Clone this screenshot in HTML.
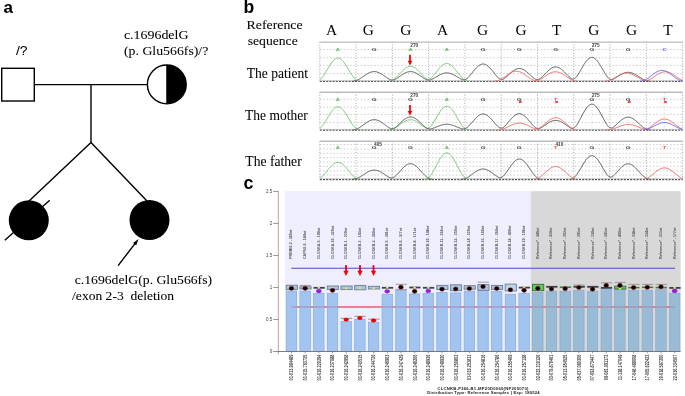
<!DOCTYPE html>
<html><head><meta charset="utf-8"><style>
html,body{margin:0;padding:0;background:#fff;width:685px;height:396px;overflow:hidden}
svg{position:absolute;left:0;top:0;will-change:transform}
.sf{font-family:'Liberation Serif',serif}
.ss{font-family:'Liberation Sans',sans-serif}
</style></head><body>
<svg width="685" height="396" viewBox="0 0 685 396">

<g id="pa">
<text x="3.4" y="12.5" class="ss" font-weight="bold" font-size="17">a</text>
<text transform="translate(16.0,55.3) scale(1.09,1)" font-family="Liberation Sans" font-weight="normal" font-size="12.8" fill="#000" stroke="#000" stroke-width="0.06">/?</text>
<text transform="translate(123.9,38.8) scale(1.1339,1)" font-family="Liberation Serif" font-weight="normal" font-size="12.3" fill="#000" stroke="#000" stroke-width="0.06">c.1696delG</text>
<text transform="translate(124.0,55.4) scale(1.1053,1)" font-family="Liberation Serif" font-weight="normal" font-size="12.5" fill="#000" stroke="#000" stroke-width="0.06">(p. Glu566fs)/?</text>
<rect x="1.7" y="68.3" width="32.6" height="32.7" fill="#fff" stroke="#000" stroke-width="1.4"/>
<line x1="34.3" y1="84.6" x2="147.5" y2="84.6" stroke="#000" stroke-width="1.4"/>
<line x1="91" y1="84.6" x2="91" y2="142.6" stroke="#000" stroke-width="1.4"/>
<polyline points="29,201 91,142.6 147,201" fill="none" stroke="#000" stroke-width="1.4"/>
<circle cx="166.8" cy="84.4" r="19.4" fill="#fff" stroke="#000" stroke-width="1.4"/>
<path d="M166.8 65.0 A19.4 19.4 0 0 1 166.8 103.80000000000001 Z" fill="#000"/>
<line x1="166.8" y1="65.0" x2="166.8" y2="103.80000000000001" stroke="#000" stroke-width="1"/>
<circle cx="28.8" cy="220.3" r="20" fill="#000"/>
<circle cx="149.5" cy="220" r="20" fill="#000"/>
<line x1="49.7" y1="200.3" x2="4.8" y2="240.3" stroke="#000" stroke-width="1.4"/>
<line x1="118.1" y1="265.6" x2="135" y2="243.6" stroke="#000" stroke-width="1.4"/>
<path d="M138.6 239 L133.05 242.93 L136.21 245.37 Z" fill="#000"/>
<text transform="translate(74.7,283.9) scale(1.123,1)" font-family="Liberation Serif" font-weight="normal" font-size="12.2" fill="#000" stroke="#000" stroke-width="0.06">c.1696delG(p. Glu566fs)</text>
<text transform="translate(72.1,299.8) scale(1.112,1)" font-family="Liberation Serif" font-weight="normal" font-size="12.2" fill="#000" stroke="#000" stroke-width="0.06">/exon 2-3&#160; deletion</text>
</g>
<g id="pb">
<text x="243.6" y="12.6" class="ss" font-weight="bold" font-size="17.5">b</text>
<text transform="translate(246.58,28.8) scale(1.1163,1)" font-family="Liberation Serif" font-weight="normal" font-size="12.4" fill="#000" stroke="#000" stroke-width="0.06">Reference</text>
<text transform="translate(247.7,44.5) scale(1.1022,1)" font-family="Liberation Serif" font-weight="normal" font-size="12.4" fill="#000" stroke="#000" stroke-width="0.06">sequence</text>
<text transform="translate(246.8,77.9) scale(0.9415,1)" font-family="Liberation Serif" font-weight="normal" font-size="14.4" fill="#000" stroke="#000" stroke-width="0.06">The patient</text>
<text transform="translate(245.1,119.8) scale(0.9439,1)" font-family="Liberation Serif" font-weight="normal" font-size="14.3" fill="#000" stroke="#000" stroke-width="0.06">The mother</text>
<text transform="translate(245.3,166) scale(0.9542,1)" font-family="Liberation Serif" font-weight="normal" font-size="14.3" fill="#000" stroke="#000" stroke-width="0.06">The father</text>
<text transform="translate(331.5,34.6) scale(1.1,1)" class="sf" font-size="14" text-anchor="middle">A</text>
<text transform="translate(368.4,34.6) scale(1.1,1)" class="sf" font-size="14" text-anchor="middle">G</text>
<text transform="translate(405.8,34.6) scale(1.1,1)" class="sf" font-size="14" text-anchor="middle">G</text>
<text transform="translate(442.6,34.6) scale(1.1,1)" class="sf" font-size="14" text-anchor="middle">A</text>
<text transform="translate(482.6,34.6) scale(1.1,1)" class="sf" font-size="14" text-anchor="middle">G</text>
<text transform="translate(521,34.6) scale(1.1,1)" class="sf" font-size="14" text-anchor="middle">G</text>
<text transform="translate(556.8,34.6) scale(1.1,1)" class="sf" font-size="14" text-anchor="middle">T</text>
<text transform="translate(593.8,34.6) scale(1.1,1)" class="sf" font-size="14" text-anchor="middle">G</text>
<text transform="translate(631.6,34.6) scale(1.1,1)" class="sf" font-size="14" text-anchor="middle">G</text>
<text transform="translate(668,34.6) scale(1.1,1)" class="sf" font-size="14" text-anchor="middle">T</text>
<line x1="319.8" y1="49.5" x2="682.6" y2="49.5" stroke="#b4b4b4" stroke-width="0.7" stroke-dasharray="1.4 2.0"/>
<line x1="319.8" y1="57.7" x2="682.6" y2="57.7" stroke="#b4b4b4" stroke-width="0.7" stroke-dasharray="1.4 2.0"/>
<line x1="319.8" y1="65.4" x2="682.6" y2="65.4" stroke="#b4b4b4" stroke-width="0.7" stroke-dasharray="1.4 2.0"/>
<line x1="319.8" y1="73.5" x2="682.6" y2="73.5" stroke="#b4b4b4" stroke-width="0.7" stroke-dasharray="1.4 2.0"/>
<line x1="319.80" y1="41.9" x2="319.80" y2="81.1" stroke="#999" stroke-width="0.8" stroke-dasharray="1.1 1.6"/>
<line x1="356.08" y1="41.9" x2="356.08" y2="81.1" stroke="#999" stroke-width="0.8" stroke-dasharray="1.1 1.6"/>
<line x1="392.36" y1="41.9" x2="392.36" y2="81.1" stroke="#999" stroke-width="0.8" stroke-dasharray="1.1 1.6"/>
<line x1="428.64" y1="41.9" x2="428.64" y2="81.1" stroke="#999" stroke-width="0.8" stroke-dasharray="1.1 1.6"/>
<line x1="464.92" y1="41.9" x2="464.92" y2="81.1" stroke="#999" stroke-width="0.8" stroke-dasharray="1.1 1.6"/>
<line x1="501.20" y1="41.9" x2="501.20" y2="81.1" stroke="#999" stroke-width="0.8" stroke-dasharray="1.1 1.6"/>
<line x1="537.48" y1="41.9" x2="537.48" y2="81.1" stroke="#999" stroke-width="0.8" stroke-dasharray="1.1 1.6"/>
<line x1="573.76" y1="41.9" x2="573.76" y2="81.1" stroke="#999" stroke-width="0.8" stroke-dasharray="1.1 1.6"/>
<line x1="610.04" y1="41.9" x2="610.04" y2="81.1" stroke="#999" stroke-width="0.8" stroke-dasharray="1.1 1.6"/>
<line x1="646.32" y1="41.9" x2="646.32" y2="81.1" stroke="#999" stroke-width="0.8" stroke-dasharray="1.1 1.6"/>
<line x1="682.60" y1="41.9" x2="682.60" y2="81.1" stroke="#999" stroke-width="0.8" stroke-dasharray="1.1 1.6"/>
<line x1="319.8" y1="42.1" x2="682.6" y2="42.1" stroke="#bdbdbd" stroke-width="1.4"/>
<line x1="319.8" y1="80.60" x2="682.6" y2="80.60" stroke="#c8c8c8" stroke-width="1"/>
<line x1="319.8" y1="81.50" x2="682.6" y2="81.50" stroke="#555" stroke-width="1.1" stroke-dasharray="2.0 1.2"/>
<polyline points="319.8,79.80 320.4,79.29 321.0,78.70 321.6,78.04 322.2,77.31 322.8,76.51 323.5,75.67 324.1,74.77 324.7,73.84 325.3,72.87 325.9,71.87 326.5,70.86 327.1,69.83 327.7,68.80 328.3,67.78 328.9,66.78 329.5,65.80 330.1,64.84 330.8,63.93 331.4,63.06 332.0,62.24 332.6,61.48 333.2,60.79 333.8,60.17 334.4,59.62 335.0,59.15 335.6,58.76 336.2,58.46 336.8,58.25 337.4,58.13 338.1,58.10 338.7,58.16 339.3,58.32 339.9,58.56 340.5,58.89 341.1,59.31 341.7,59.81 342.3,60.39 342.9,61.04 343.5,61.75 344.1,62.54 344.7,63.37 345.4,64.26 346.0,65.19 346.6,66.15 347.2,67.15 347.8,68.16 348.4,69.18 349.0,70.21 349.6,71.23 350.2,72.24 350.8,73.23 351.4,74.18 352.0,75.11 352.7,75.98 353.3,76.81 353.9,77.58 354.5,78.29 355.1,78.93 355.7,79.49 356.3,79.97 356.9,80.37 357.5,80.69 358.1,80.92 358.7,81.05 359.3,81.10" fill="none" stroke="#6abf6a" stroke-width="0.9" stroke-linejoin="round"/>
<polyline points="389.1,81.10 389.7,81.07 390.3,80.98 390.9,80.84 391.5,80.64 392.1,80.39 392.7,80.08 393.3,79.72 393.9,79.32 394.5,78.87 395.1,78.38 395.7,77.85 396.3,77.30 396.9,76.71 397.5,76.10 398.2,75.47 398.8,74.83 399.4,74.18 400.0,73.52 400.6,72.87 401.2,72.22 401.8,71.58 402.4,70.96 403.0,70.37 403.6,69.80 404.2,69.25 404.8,68.75 405.4,68.28 406.0,67.86 406.6,67.48 407.2,67.15 407.8,66.87 408.4,66.64 409.0,66.47 409.6,66.36 410.2,66.31 410.8,66.31 411.4,66.37 412.0,66.49 412.6,66.66 413.2,66.89 413.8,67.18 414.5,67.51 415.1,67.89 415.7,68.32 416.3,68.79 416.9,69.30 417.5,69.85 418.1,70.42 418.7,71.02 419.3,71.64 419.9,72.28 420.5,72.93 421.1,73.58 421.7,74.24 422.3,74.89 422.9,75.53 423.5,76.16 424.1,76.76 424.7,77.35 425.3,77.90 425.9,78.40 426.5,78.79 427.1,79.07 427.7,79.23 428.3,79.29 428.9,79.23 429.5,79.06 430.1,78.78 430.8,78.39 431.4,77.90 432.0,77.30 432.6,76.64 433.2,75.94 433.8,75.22 434.4,74.48 435.0,73.71 435.6,72.94 436.2,72.16 436.8,71.38 437.4,70.61 438.0,69.85 438.6,69.11 439.2,68.40 439.8,67.72 440.4,67.07 441.0,66.46 441.6,65.90 442.2,65.39 442.8,64.94 443.4,64.54 444.0,64.20 444.6,63.93 445.2,63.72 445.8,63.58 446.5,63.51 447.1,63.51 447.7,63.57 448.3,63.71 448.9,63.91 449.5,64.18 450.1,64.51 450.7,64.90 451.3,65.35 451.9,65.86 452.5,66.41 453.1,67.01 453.7,67.66 454.3,68.34 454.9,69.05 455.5,69.78 456.1,70.54 456.7,71.31 457.3,72.09 457.9,72.87 458.5,73.64 459.1,74.41 459.7,75.15 460.3,75.88 460.9,76.58 461.5,77.24 462.1,77.87 462.8,78.45 463.4,78.98 464.0,79.46 464.6,79.89 465.2,80.25 465.8,80.55 466.4,80.79 467.0,80.96 467.6,81.07 468.2,81.10" fill="none" stroke="#6abf6a" stroke-width="0.9" stroke-linejoin="round"/>
<polyline points="352.8,81.10 353.4,81.08 354.0,81.03 354.6,80.93 355.2,80.81 355.8,80.65 356.4,80.45 357.0,80.22 357.6,79.97 358.2,79.68 358.8,79.37 359.4,79.04 360.0,78.68 360.6,78.31 361.2,77.92 361.8,77.52 362.4,77.11 363.0,76.69 363.6,76.27 364.2,75.85 364.8,75.44 365.4,75.03 366.0,74.64 366.6,74.25 367.2,73.89 367.8,73.54 368.4,73.21 369.0,72.91 369.6,72.64 370.2,72.39 370.8,72.17 371.4,71.99 372.0,71.84 372.6,71.73 373.2,71.65 373.8,71.61 374.4,71.60 375.0,71.63 375.6,71.70 376.2,71.81 376.8,71.95 377.4,72.12 378.0,72.33 378.6,72.57 379.2,72.84 379.8,73.13 380.4,73.45 381.1,73.79 381.7,74.16 382.3,74.54 382.9,74.93 383.5,75.33 384.1,75.75 384.7,76.16 385.3,76.58 385.9,77.00 386.5,77.41 387.1,77.81 387.7,78.21 388.3,78.58 388.9,78.94 389.5,79.28 390.1,79.55 390.7,79.77 391.3,79.92 391.9,80.01 392.5,80.03 393.1,79.98 393.7,79.88 394.3,79.70 394.9,79.47 395.5,79.17 396.1,78.82 396.7,78.45 397.3,78.07 397.9,77.68 398.5,77.27 399.1,76.85 399.7,76.44 400.3,76.02 400.9,75.60 401.5,75.19 402.1,74.79 402.7,74.40 403.3,74.03 403.9,73.67 404.5,73.34 405.1,73.03 405.7,72.74 406.3,72.48 406.9,72.25 407.5,72.06 408.1,71.90 408.7,71.77 409.3,71.68 409.9,71.62 410.5,71.60 411.1,71.62 411.7,71.67 412.3,71.76 412.9,71.89 413.5,72.05 414.1,72.24 414.7,72.47 415.3,72.73 415.9,73.01 416.5,73.32 417.1,73.66 417.7,74.01 418.3,74.38 418.9,74.77 419.5,75.17 420.1,75.58 420.7,76.00 421.3,76.42 421.9,76.84 422.5,77.25 423.1,77.66 423.7,78.05 424.3,78.44 424.9,78.81 425.5,79.15 426.1,79.46 426.7,79.71 427.3,79.90 427.9,80.03 428.5,80.10 429.1,80.11 429.7,80.05 430.3,79.94 430.9,79.77 431.5,79.54 432.1,79.25 432.7,78.94 433.3,78.62 433.9,78.28 434.5,77.93 435.1,77.58 435.7,77.22 436.3,76.85 436.9,76.49 437.5,76.14 438.1,75.79 438.7,75.45 439.3,75.12 439.9,74.81 440.5,74.51 441.1,74.23 441.7,73.98 442.3,73.75 442.9,73.54 443.5,73.36 444.1,73.21 444.7,73.08 445.3,72.99 445.9,72.93 446.5,72.90 447.1,72.91 447.7,72.94 448.3,73.01 448.9,73.10 449.5,73.23 450.1,73.39 450.7,73.57 451.3,73.78 451.9,74.02 452.5,74.28 453.1,74.56 453.7,74.86 454.3,75.18 454.9,75.51 455.5,75.85 456.1,76.20 456.7,76.56 457.3,76.92 457.9,77.28 458.5,77.64 459.1,77.99 459.7,78.34 460.3,78.67 460.9,79.00 461.6,79.31 462.2,79.57 462.8,79.75 463.4,79.85 464.0,79.85 464.6,79.77 465.2,79.60 465.8,79.34 466.4,79.00 467.0,78.57 467.6,78.07 468.2,77.49 468.8,76.86 469.4,76.19 470.0,75.50 470.6,74.78 471.2,74.04 471.8,73.29 472.4,72.54 473.0,71.79 473.6,71.04 474.2,70.31 474.8,69.59 475.4,68.89 476.0,68.23 476.6,67.59 477.2,67.00 477.8,66.45 478.4,65.95 479.0,65.49 479.6,65.10 480.2,64.76 480.8,64.48 481.4,64.26 482.0,64.11 482.6,64.02 483.2,64.00 483.8,64.05 484.4,64.16 485.0,64.34 485.6,64.58 486.2,64.88 486.8,65.24 487.4,65.66 488.0,66.14 488.6,66.66 489.2,67.23 489.8,67.84 490.4,68.48 491.0,69.16 491.6,69.87 492.2,70.59 492.8,71.33 493.4,72.08 494.0,72.84 494.6,73.59 495.2,74.33 495.8,75.06 496.4,75.77 497.0,76.46 497.6,77.11 498.2,77.72 498.8,78.26 499.4,78.70 500.0,79.04 500.6,79.28 501.2,79.43 501.8,79.47 502.4,79.40 503.0,79.24 503.6,78.97 504.2,78.61 504.8,78.16 505.4,77.68 506.0,77.17 506.6,76.65 507.2,76.11 507.8,75.56 508.4,75.01 509.0,74.46 509.6,73.90 510.2,73.36 510.8,72.82 511.4,72.30 512.0,71.80 512.6,71.33 513.2,70.88 513.8,70.46 514.4,70.07 515.0,69.73 515.6,69.42 516.2,69.15 516.8,68.93 517.4,68.75 518.0,68.62 518.6,68.53 519.2,68.50 519.8,68.52 520.4,68.58 521.0,68.69 521.6,68.85 522.2,69.06 522.8,69.31 523.4,69.60 524.0,69.93 524.6,70.30 525.2,70.71 525.8,71.15 526.4,71.62 527.0,72.11 527.6,72.62 528.2,73.15 528.8,73.69 529.4,74.24 530.0,74.79 530.6,75.35 531.2,75.90 531.8,76.44 532.4,76.97 533.0,77.48 533.6,77.97 534.2,78.44 534.8,78.85 535.4,79.17 536.0,79.40 536.6,79.55 537.2,79.60 537.8,79.55 538.4,79.42 539.0,79.19 539.6,78.88 540.2,78.48 540.8,77.99 541.5,77.46 542.1,76.90 542.7,76.32 543.3,75.72 543.9,75.10 544.5,74.48 545.1,73.86 545.7,73.23 546.3,72.61 546.9,72.01 547.5,71.41 548.1,70.84 548.7,70.29 549.3,69.78 549.9,69.29 550.5,68.84 551.1,68.43 551.7,68.06 552.3,67.74 552.9,67.47 553.5,67.25 554.1,67.08 554.7,66.97 555.3,66.91 555.9,66.90 556.5,66.96 557.1,67.06 557.7,67.22 558.3,67.43 558.9,67.69 559.5,68.01 560.1,68.36 560.7,68.77 561.3,69.21 561.9,69.69 562.5,70.20 563.1,70.74 563.7,71.31 564.3,71.90 564.9,72.51 565.5,73.12 566.1,73.75 566.7,74.37 567.3,75.00 567.9,75.61 568.5,76.21 569.1,76.80 569.7,77.36 570.3,77.90 570.9,78.39 571.5,78.76 572.1,78.99 572.7,79.10 573.3,79.08 573.9,78.92 574.5,78.63 575.1,78.22 575.7,77.68 576.3,77.02 576.9,76.24 577.5,75.38 578.1,74.46 578.7,73.50 579.3,72.51 579.9,71.50 580.5,70.46 581.1,69.42 581.7,68.38 582.3,67.34 582.9,66.32 583.5,65.32 584.1,64.35 584.7,63.42 585.3,62.53 585.9,61.70 586.5,60.92 587.1,60.21 587.7,59.57 588.3,59.01 588.9,58.52 589.5,58.12 590.1,57.81 590.7,57.58 591.3,57.44 591.9,57.40 592.5,57.45 593.1,57.59 593.7,57.82 594.3,58.14 594.9,58.54 595.5,59.03 596.1,59.60 596.7,60.24 597.3,60.96 597.9,61.73 598.5,62.57 599.1,63.46 599.7,64.39 600.3,65.36 600.9,66.36 601.5,67.38 602.1,68.42 602.7,69.47 603.3,70.51 603.9,71.54 604.5,72.56 605.1,73.55 605.7,74.50 606.3,75.42 606.9,76.28 607.5,77.07 608.1,77.76 608.7,78.35 609.3,78.84 609.9,79.22 610.5,79.48 611.1,79.63 611.7,79.67 612.3,79.59 612.9,79.40 613.5,79.10 614.1,78.77 614.7,78.42 615.3,78.06 615.9,77.68 616.5,77.30 617.1,76.91 617.7,76.53 618.3,76.14 618.9,75.76 619.5,75.38 620.1,75.02 620.7,74.67 621.3,74.33 622.0,74.01 622.6,73.72 623.2,73.44 623.8,73.20 624.4,72.98 625.0,72.78 625.6,72.62 626.2,72.49 626.8,72.40 627.4,72.33 628.0,72.30 628.6,72.31 629.2,72.35 629.8,72.42 630.4,72.52 631.0,72.66 631.6,72.83 632.2,73.03 632.8,73.26 633.4,73.51 634.0,73.79 634.6,74.10 635.2,74.42 635.8,74.76 636.4,75.11 637.0,75.48 637.6,75.86 638.2,76.24 638.8,76.63 639.4,77.02 640.0,77.40 640.6,77.78 641.2,78.15 641.8,78.51 642.4,78.86 643.0,79.19 643.6,79.50 644.2,79.79 644.8,80.05 645.4,80.29 646.0,80.50 646.6,80.68 647.2,80.83 647.8,80.95 648.4,81.03 649.0,81.08 649.6,81.10" fill="none" stroke="#484848" stroke-width="0.9" stroke-linejoin="round"/>
<polyline points="494.9,81.10 495.5,81.08 496.1,81.02 496.7,80.93 497.3,80.79 498.0,80.62 498.6,80.42 499.2,80.18 499.8,79.91 500.4,79.61 501.0,79.28 501.6,78.93 502.2,78.56 502.8,78.16 503.4,77.76 504.0,77.34 504.6,76.91 505.2,76.47 505.8,76.03 506.4,75.59 507.0,75.16 507.6,74.74 508.2,74.32 508.8,73.92 509.4,73.54 510.0,73.18 510.6,72.84 511.2,72.53 511.8,72.24 512.4,71.99 513.0,71.77 513.6,71.58 514.3,71.43 514.9,71.32 515.5,71.24 516.1,71.20 516.7,71.21 517.3,71.25 517.9,71.32 518.5,71.44 519.1,71.59 519.7,71.78 520.3,72.01 520.9,72.26 521.5,72.55 522.1,72.86 522.7,73.20 523.3,73.57 523.9,73.95 524.5,74.35 525.1,74.77 525.7,75.19 526.3,75.63 526.9,76.07 527.5,76.50 528.1,76.94 528.7,77.37 529.3,77.79 529.9,78.19 530.5,78.59 531.2,78.96 531.8,79.31 532.4,79.63 533.0,79.93 533.6,80.20 534.2,80.43 534.8,80.62 535.4,80.74 536.0,80.78 536.6,80.75 537.2,80.65 537.8,80.47 538.4,80.25 539.0,80.00 539.6,79.72 540.2,79.42 540.8,79.09 541.4,78.74 542.0,78.37 542.6,77.99 543.2,77.59 543.8,77.19 544.4,76.78 545.0,76.37 545.6,75.96 546.2,75.55 546.8,75.15 547.4,74.76 548.1,74.39 548.7,74.02 549.3,73.68 549.9,73.36 550.5,73.07 551.1,72.80 551.7,72.56 552.3,72.35 552.9,72.17 553.5,72.03 554.1,71.92 554.7,71.84 555.3,71.81 555.9,71.80 556.5,71.84 557.1,71.91 557.7,72.02 558.3,72.16 558.9,72.33 559.5,72.54 560.1,72.78 560.7,73.05 561.3,73.34 561.9,73.66 562.5,74.00 563.1,74.36 563.7,74.73 564.3,75.12 565.0,75.52 565.6,75.93 566.2,76.34 566.8,76.75 567.4,77.16 568.0,77.56 568.6,77.96 569.2,78.34 569.8,78.71 570.4,79.06 571.0,79.39 571.6,79.70 572.2,79.98 572.8,80.23 573.4,80.46 574.0,80.65 574.6,80.81 575.2,80.94 575.8,81.03 576.4,81.08 577.0,81.10" fill="none" stroke="#f05a5a" stroke-width="0.9" stroke-linejoin="round"/>
<polyline points="605.3,81.10 605.9,81.08 606.5,81.04 607.1,80.96 607.7,80.85 608.3,80.71 608.9,80.55 609.5,80.35 610.1,80.14 610.7,79.89 611.3,79.63 611.9,79.34 612.5,79.04 613.1,78.72 613.7,78.39 614.3,78.05 614.9,77.71 615.5,77.35 616.1,77.00 616.8,76.65 617.4,76.30 618.0,75.95 618.6,75.62 619.2,75.29 619.8,74.99 620.4,74.69 621.0,74.42 621.6,74.17 622.2,73.94 622.8,73.73 623.4,73.56 624.0,73.41 624.6,73.28 625.2,73.19 625.8,73.13 626.4,73.10 627.0,73.11 627.6,73.14 628.2,73.20 628.8,73.30 629.4,73.42 630.0,73.58 630.6,73.76 631.3,73.97 631.9,74.20 632.5,74.45 633.1,74.73 633.7,75.03 634.3,75.34 634.9,75.66 635.5,76.00 636.1,76.34 636.7,76.69 637.3,77.05 637.9,77.40 638.5,77.75 639.1,78.10 639.7,78.44 640.3,78.77 640.9,79.08 641.5,79.38 642.1,79.66 642.7,79.93 643.3,80.17 643.9,80.38 644.5,80.55 645.1,80.65 645.7,80.69 646.4,80.66 647.0,80.57 647.6,80.42 648.2,80.20 648.8,79.94 649.4,79.66 650.0,79.35 650.6,79.01 651.2,78.66 651.8,78.29 652.4,77.90 653.0,77.50 653.6,77.10 654.2,76.69 654.8,76.28 655.4,75.87 656.0,75.46 656.6,75.06 657.2,74.67 657.8,74.30 658.4,73.94 659.0,73.61 659.6,73.29 660.2,73.00 660.9,72.74 661.5,72.51 662.1,72.30 662.7,72.13 663.3,72.00 663.9,71.90 664.5,71.83 665.1,71.80 665.7,71.81 666.3,71.85 666.9,71.93 667.5,72.05 668.1,72.20 668.7,72.38 669.3,72.60 669.9,72.84 670.5,73.12 671.1,73.42 671.7,73.74 672.3,74.09 672.9,74.45 673.5,74.83 674.1,75.22 674.7,75.62 675.4,76.03 676.0,76.44 676.6,76.86 677.2,77.27 677.8,77.67 678.4,78.06 679.0,78.44 679.6,78.80 680.2,79.15 680.8,79.47 681.4,79.78 682.0,80.05 682.6,80.30" fill="none" stroke="#f05a5a" stroke-width="0.9" stroke-linejoin="round"/>
<polyline points="640.6,81.10 641.2,81.08 641.8,81.02 642.4,80.91 643.0,80.77 643.6,80.59 644.2,80.37 644.8,80.11 645.4,79.82 646.0,79.50 646.6,79.15 647.2,78.78 647.8,78.38 648.4,77.95 649.0,77.52 649.6,77.07 650.2,76.60 650.8,76.14 651.4,75.66 652.0,75.19 652.6,74.73 653.2,74.27 653.8,73.82 654.4,73.39 655.0,72.98 655.6,72.58 656.2,72.22 656.8,71.88 657.4,71.57 658.0,71.29 658.6,71.05 659.2,70.84 659.8,70.67 660.4,70.54 661.0,70.46 661.6,70.41 662.2,70.40 662.8,70.44 663.4,70.52 664.0,70.63 664.6,70.79 665.2,70.99 665.8,71.22 666.4,71.49 667.0,71.79 667.6,72.12 668.2,72.48 668.8,72.87 669.4,73.28 670.0,73.70 670.6,74.15 671.2,74.60 671.8,75.07 672.4,75.54 673.0,76.01 673.6,76.48 674.2,76.94 674.8,77.39 675.4,77.84 676.0,78.26 676.6,78.67 677.2,79.05 677.8,79.41 678.4,79.74 679.0,80.04 679.6,80.30 680.2,80.53 680.8,80.72 681.4,80.88 682.0,80.99 682.6,81.07" fill="none" stroke="#5a5af0" stroke-width="0.9" stroke-linejoin="round"/>
<text transform="translate(337.9,50.8) scale(1.15,0.72)" class="ss" font-size="5.5" font-weight="bold" text-anchor="middle" fill="#6abf6a">A</text>
<text transform="translate(374.2,50.8) scale(1.15,0.72)" class="ss" font-size="5.5" font-weight="bold" text-anchor="middle" fill="#444">G</text>
<text transform="translate(410.5,50.8) scale(1.15,0.72)" class="ss" font-size="5.5" font-weight="bold" text-anchor="middle" fill="#6abf6a">A</text>
<text transform="translate(446.8,50.8) scale(1.15,0.72)" class="ss" font-size="5.5" font-weight="bold" text-anchor="middle" fill="#6abf6a">A</text>
<text transform="translate(483.1,50.8) scale(1.15,0.72)" class="ss" font-size="5.5" font-weight="bold" text-anchor="middle" fill="#444">G</text>
<text transform="translate(519.3,50.8) scale(1.15,0.72)" class="ss" font-size="5.5" font-weight="bold" text-anchor="middle" fill="#444">G</text>
<text transform="translate(555.6,50.8) scale(1.15,0.72)" class="ss" font-size="5.5" font-weight="bold" text-anchor="middle" fill="#444">G</text>
<text transform="translate(591.9,50.8) scale(1.15,0.72)" class="ss" font-size="5.5" font-weight="bold" text-anchor="middle" fill="#444">G</text>
<text transform="translate(628.2,50.8) scale(1.15,0.72)" class="ss" font-size="5.5" font-weight="bold" text-anchor="middle" fill="#444">G</text>
<text transform="translate(664.5,50.8) scale(1.15,0.72)" class="ss" font-size="5.5" font-weight="bold" text-anchor="middle" fill="#5a5af0">C</text>
<text x="414.3" y="46.5" class="ss" font-size="4.8" font-weight="bold" text-anchor="middle" fill="#444">270</text>
<text x="595.7" y="46.5" class="ss" font-size="4.8" font-weight="bold" text-anchor="middle" fill="#444">275</text>
<rect x="409.15" y="54.8" width="1.7" height="6.2" fill="#ee0000"/>
<path d="M407.7 60.8 L412.3 60.8 L410.0 65.39999999999999 Z" fill="#ee0000"/>
<line x1="319.8" y1="99.3" x2="682.6" y2="99.3" stroke="#b4b4b4" stroke-width="0.7" stroke-dasharray="1.4 2.0"/>
<line x1="319.8" y1="107.2" x2="682.6" y2="107.2" stroke="#b4b4b4" stroke-width="0.7" stroke-dasharray="1.4 2.0"/>
<line x1="319.8" y1="114.4" x2="682.6" y2="114.4" stroke="#b4b4b4" stroke-width="0.7" stroke-dasharray="1.4 2.0"/>
<line x1="319.8" y1="122.4" x2="682.6" y2="122.4" stroke="#b4b4b4" stroke-width="0.7" stroke-dasharray="1.4 2.0"/>
<line x1="319.80" y1="92.1" x2="319.80" y2="129.9" stroke="#999" stroke-width="0.8" stroke-dasharray="1.1 1.6"/>
<line x1="356.08" y1="92.1" x2="356.08" y2="129.9" stroke="#999" stroke-width="0.8" stroke-dasharray="1.1 1.6"/>
<line x1="392.36" y1="92.1" x2="392.36" y2="129.9" stroke="#999" stroke-width="0.8" stroke-dasharray="1.1 1.6"/>
<line x1="428.64" y1="92.1" x2="428.64" y2="129.9" stroke="#999" stroke-width="0.8" stroke-dasharray="1.1 1.6"/>
<line x1="464.92" y1="92.1" x2="464.92" y2="129.9" stroke="#999" stroke-width="0.8" stroke-dasharray="1.1 1.6"/>
<line x1="501.20" y1="92.1" x2="501.20" y2="129.9" stroke="#999" stroke-width="0.8" stroke-dasharray="1.1 1.6"/>
<line x1="537.48" y1="92.1" x2="537.48" y2="129.9" stroke="#999" stroke-width="0.8" stroke-dasharray="1.1 1.6"/>
<line x1="573.76" y1="92.1" x2="573.76" y2="129.9" stroke="#999" stroke-width="0.8" stroke-dasharray="1.1 1.6"/>
<line x1="610.04" y1="92.1" x2="610.04" y2="129.9" stroke="#999" stroke-width="0.8" stroke-dasharray="1.1 1.6"/>
<line x1="646.32" y1="92.1" x2="646.32" y2="129.9" stroke="#999" stroke-width="0.8" stroke-dasharray="1.1 1.6"/>
<line x1="682.60" y1="92.1" x2="682.60" y2="129.9" stroke="#999" stroke-width="0.8" stroke-dasharray="1.1 1.6"/>
<line x1="337.94" y1="93.1" x2="337.94" y2="129.9" stroke="#c8c8d8" stroke-width="0.7" stroke-dasharray="1.1 2.2"/>
<line x1="374.22" y1="93.1" x2="374.22" y2="129.9" stroke="#c8c8d8" stroke-width="0.7" stroke-dasharray="1.1 2.2"/>
<line x1="410.50" y1="93.1" x2="410.50" y2="129.9" stroke="#c8c8d8" stroke-width="0.7" stroke-dasharray="1.1 2.2"/>
<line x1="446.78" y1="93.1" x2="446.78" y2="129.9" stroke="#c8c8d8" stroke-width="0.7" stroke-dasharray="1.1 2.2"/>
<line x1="483.06" y1="93.1" x2="483.06" y2="129.9" stroke="#c8c8d8" stroke-width="0.7" stroke-dasharray="1.1 2.2"/>
<line x1="519.34" y1="93.1" x2="519.34" y2="129.9" stroke="#c8c8d8" stroke-width="0.7" stroke-dasharray="1.1 2.2"/>
<line x1="555.62" y1="93.1" x2="555.62" y2="129.9" stroke="#c8c8d8" stroke-width="0.7" stroke-dasharray="1.1 2.2"/>
<line x1="591.90" y1="93.1" x2="591.90" y2="129.9" stroke="#c8c8d8" stroke-width="0.7" stroke-dasharray="1.1 2.2"/>
<line x1="628.18" y1="93.1" x2="628.18" y2="129.9" stroke="#c8c8d8" stroke-width="0.7" stroke-dasharray="1.1 2.2"/>
<line x1="664.46" y1="93.1" x2="664.46" y2="129.9" stroke="#c8c8d8" stroke-width="0.7" stroke-dasharray="1.1 2.2"/>
<line x1="319.8" y1="92.3" x2="682.6" y2="92.3" stroke="#bdbdbd" stroke-width="1.4"/>
<line x1="319.8" y1="129.40" x2="682.6" y2="129.40" stroke="#c8c8c8" stroke-width="1"/>
<line x1="319.8" y1="130.30" x2="682.6" y2="130.30" stroke="#555" stroke-width="1.1" stroke-dasharray="2.0 1.2"/>
<polyline points="319.8,128.60 320.4,128.08 321.0,127.49 321.6,126.82 322.2,126.09 322.8,125.29 323.5,124.44 324.1,123.55 324.7,122.60 325.3,121.63 325.9,120.63 326.5,119.61 327.1,118.58 327.7,117.55 328.3,116.53 328.9,115.52 329.5,114.53 330.1,113.57 330.8,112.65 331.4,111.78 332.0,110.96 332.6,110.20 333.2,109.50 333.8,108.87 334.4,108.32 335.0,107.85 335.6,107.46 336.2,107.16 336.8,106.95 337.4,106.83 338.1,106.80 338.7,106.86 339.3,107.02 339.9,107.26 340.5,107.60 341.1,108.02 341.7,108.52 342.3,109.10 342.9,109.75 343.5,110.47 344.1,111.25 344.7,112.10 345.4,112.99 346.0,113.92 346.6,114.89 347.2,115.89 347.8,116.90 348.4,117.93 349.0,118.96 349.6,119.99 350.2,121.00 350.8,121.99 351.4,122.95 352.0,123.88 352.7,124.76 353.3,125.59 353.9,126.37 354.5,127.08 355.1,127.72 355.7,128.28 356.3,128.77 356.9,129.17 357.5,129.49 358.1,129.72 358.7,129.85 359.3,129.90" fill="none" stroke="#6abf6a" stroke-width="0.9" stroke-linejoin="round"/>
<polyline points="389.1,129.90 389.7,129.88 390.3,129.82 390.9,129.72 391.5,129.58 392.1,129.41 392.7,129.20 393.3,128.95 393.9,128.67 394.5,128.36 395.1,128.03 395.7,127.66 396.3,127.28 396.9,126.87 397.5,126.45 398.2,126.02 398.8,125.58 399.4,125.13 400.0,124.68 400.6,124.23 401.2,123.78 401.8,123.34 402.4,122.91 403.0,122.50 403.6,122.11 404.2,121.74 404.8,121.39 405.4,121.07 406.0,120.77 406.6,120.51 407.2,120.28 407.8,120.09 408.4,119.94 409.0,119.82 409.6,119.74 410.2,119.70 410.8,119.71 411.4,119.75 412.0,119.83 412.6,119.95 413.2,120.11 413.8,120.30 414.5,120.53 415.1,120.80 415.7,121.09 416.3,121.42 416.9,121.77 417.5,122.14 418.1,122.54 418.7,122.95 419.3,123.38 419.9,123.82 420.5,124.27 421.1,124.72 421.7,125.17 422.3,125.62 422.9,126.06 423.5,126.49 424.1,126.91 424.7,127.31 425.3,127.70 425.9,128.02 426.5,128.22 427.1,128.31 427.7,128.27 428.3,128.12 428.9,127.84 429.5,127.45 430.1,126.95 430.8,126.34 431.4,125.62 432.0,124.80 432.6,123.92 433.2,122.99 433.8,122.02 434.4,121.02 435.0,119.99 435.6,118.96 436.2,117.91 436.8,116.87 437.4,115.83 438.0,114.82 438.6,113.83 439.2,112.87 439.8,111.96 440.4,111.09 441.0,110.28 441.6,109.52 442.2,108.84 442.8,108.23 443.4,107.70 444.0,107.24 444.6,106.88 445.2,106.60 445.8,106.41 446.5,106.31 447.1,106.31 447.7,106.40 448.3,106.58 448.9,106.85 449.5,107.21 450.1,107.65 450.7,108.18 451.3,108.78 451.9,109.46 452.5,110.20 453.1,111.01 453.7,111.87 454.3,112.79 454.9,113.74 455.5,114.73 456.1,115.74 456.7,116.77 457.3,117.81 457.9,118.86 458.5,119.90 459.1,120.92 459.7,121.93 460.3,122.90 460.9,123.83 461.5,124.72 462.1,125.56 462.8,126.34 463.4,127.06 464.0,127.70 464.6,128.27 465.2,128.76 465.8,129.17 466.4,129.49 467.0,129.72 467.6,129.85 468.2,129.90" fill="none" stroke="#6abf6a" stroke-width="0.9" stroke-linejoin="round"/>
<polyline points="352.8,129.90 353.4,129.88 354.0,129.82 354.6,129.72 355.2,129.59 355.8,129.41 356.4,129.20 357.0,128.96 357.6,128.68 358.2,128.38 358.8,128.04 359.4,127.68 360.0,127.30 360.6,126.90 361.2,126.48 361.8,126.05 362.4,125.61 363.0,125.17 363.6,124.72 364.2,124.27 364.8,123.82 365.4,123.39 366.0,122.96 366.6,122.55 367.2,122.15 367.8,121.78 368.4,121.43 369.0,121.11 369.6,120.81 370.2,120.55 370.8,120.32 371.4,120.12 372.0,119.96 372.6,119.84 373.2,119.75 373.8,119.71 374.4,119.70 375.0,119.74 375.6,119.81 376.2,119.92 376.8,120.07 377.4,120.26 378.0,120.48 378.6,120.74 379.2,121.03 379.8,121.34 380.4,121.69 381.1,122.05 381.7,122.44 382.3,122.85 382.9,123.27 383.5,123.71 384.1,124.15 384.7,124.60 385.3,125.05 385.9,125.50 386.5,125.94 387.1,126.37 387.7,126.79 388.3,127.20 388.9,127.59 389.5,127.94 390.1,128.23 390.7,128.44 391.3,128.57 391.9,128.62 392.5,128.59 393.1,128.48 393.7,128.29 394.3,128.03 394.9,127.69 395.5,127.28 396.1,126.81 396.7,126.31 397.3,125.79 397.9,125.25 398.5,124.70 399.1,124.13 399.7,123.57 400.3,123.00 400.9,122.43 401.5,121.88 402.1,121.33 402.7,120.80 403.3,120.30 403.9,119.81 404.5,119.36 405.1,118.94 405.7,118.55 406.3,118.20 406.9,117.89 407.5,117.62 408.1,117.40 408.7,117.23 409.3,117.10 409.9,117.03 410.5,117.00 411.1,117.02 411.7,117.10 412.3,117.22 412.9,117.39 413.5,117.61 414.1,117.88 414.7,118.18 415.3,118.53 415.9,118.92 416.5,119.34 417.1,119.79 417.7,120.27 418.3,120.78 418.9,121.31 419.5,121.85 420.1,122.41 420.7,122.97 421.3,123.54 421.9,124.11 422.5,124.67 423.1,125.23 423.7,125.76 424.3,126.29 424.9,126.78 425.5,127.26 426.1,127.69 426.7,128.06 427.3,128.37 427.9,128.63 428.5,128.82 429.1,128.95 429.7,129.02 430.3,129.02 430.9,128.96 431.5,128.83 432.1,128.64 432.7,128.43 433.3,128.20 433.9,127.97 434.5,127.74 435.1,127.49 435.7,127.25 436.3,127.00 436.9,126.75 437.5,126.51 438.1,126.27 438.7,126.04 439.3,125.82 439.9,125.60 440.5,125.40 441.1,125.21 441.7,125.04 442.3,124.88 442.9,124.74 443.5,124.61 444.1,124.51 444.7,124.43 445.3,124.36 445.9,124.32 446.5,124.30 447.1,124.30 447.7,124.33 448.3,124.37 448.9,124.44 449.5,124.53 450.1,124.63 450.7,124.76 451.3,124.90 451.9,125.06 452.5,125.24 453.1,125.43 453.7,125.64 454.3,125.85 454.9,126.08 455.5,126.31 456.1,126.55 456.7,126.80 457.3,127.04 457.9,127.29 458.5,127.54 459.1,127.78 459.7,128.01 460.3,128.24 460.9,128.46 461.6,128.67 462.2,128.85 462.8,128.95 463.4,128.98 464.0,128.93 464.6,128.80 465.2,128.60 465.8,128.33 466.4,127.98 467.0,127.57 467.6,127.09 468.2,126.54 468.8,125.96 469.4,125.34 470.0,124.69 470.6,124.02 471.2,123.34 471.8,122.64 472.4,121.94 473.0,121.24 473.6,120.55 474.2,119.86 474.8,119.20 475.4,118.55 476.0,117.93 476.6,117.34 477.2,116.79 477.8,116.28 478.4,115.81 479.0,115.39 479.6,115.02 480.2,114.70 480.8,114.44 481.4,114.24 482.0,114.10 482.6,114.02 483.2,114.00 483.8,114.04 484.4,114.15 485.0,114.31 485.6,114.54 486.2,114.82 486.8,115.16 487.4,115.55 488.0,115.99 488.6,116.47 489.2,117.00 489.8,117.57 490.4,118.17 491.0,118.80 491.6,119.46 492.2,120.13 492.8,120.82 493.4,121.52 494.0,122.22 494.6,122.92 495.2,123.61 495.8,124.28 496.4,124.94 497.0,125.58 497.6,126.19 498.2,126.76 498.8,127.24 499.4,127.61 500.0,127.88 500.6,128.04 501.2,128.09 501.8,128.03 502.4,127.86 503.0,127.58 503.6,127.19 504.2,126.70 504.8,126.12 505.4,125.50 506.0,124.85 506.6,124.18 507.2,123.49 507.8,122.78 508.4,122.07 509.0,121.36 509.6,120.65 510.2,119.95 510.8,119.26 511.4,118.59 512.0,117.95 512.6,117.34 513.2,116.76 513.8,116.22 514.4,115.72 515.0,115.28 515.6,114.88 516.2,114.54 516.8,114.25 517.4,114.02 518.0,113.85 518.6,113.74 519.2,113.70 519.8,113.72 520.4,113.80 521.0,113.95 521.6,114.15 522.2,114.42 522.8,114.74 523.4,115.11 524.0,115.54 524.6,116.02 525.2,116.54 525.8,117.11 526.4,117.71 527.0,118.34 527.6,118.99 528.2,119.67 528.8,120.37 529.4,121.08 530.0,121.79 530.6,122.51 531.2,123.21 531.8,123.91 532.4,124.59 533.0,125.25 533.6,125.88 534.2,126.48 534.8,127.03 535.4,127.49 536.0,127.88 536.6,128.18 537.2,128.39 537.8,128.52 538.4,128.56 539.0,128.50 539.6,128.36 540.2,128.13 540.8,127.82 541.5,127.46 542.1,127.09 542.7,126.70 543.3,126.30 543.9,125.89 544.5,125.47 545.1,125.05 545.7,124.64 546.3,124.22 546.9,123.82 547.5,123.42 548.1,123.04 548.7,122.67 549.3,122.32 549.9,122.00 550.5,121.70 551.1,121.42 551.7,121.18 552.3,120.96 552.9,120.78 553.5,120.64 554.1,120.52 554.7,120.45 555.3,120.41 555.9,120.40 556.5,120.44 557.1,120.51 557.7,120.61 558.3,120.76 558.9,120.93 559.5,121.14 560.1,121.38 560.7,121.65 561.3,121.94 561.9,122.27 562.5,122.61 563.1,122.97 563.7,123.35 564.3,123.75 564.9,124.15 565.5,124.56 566.1,124.98 566.7,125.40 567.3,125.82 567.9,126.23 568.5,126.63 569.1,127.02 569.7,127.40 570.3,127.76 570.9,128.08 571.5,128.28 572.1,128.36 572.7,128.31 573.3,128.14 573.9,127.84 574.5,127.43 575.1,126.89 575.7,126.25 576.3,125.49 576.9,124.64 577.5,123.69 578.1,122.70 578.7,121.66 579.3,120.59 579.9,119.49 580.5,118.36 581.1,117.23 581.7,116.10 582.3,114.98 582.9,113.87 583.5,112.78 584.1,111.73 584.7,110.72 585.3,109.76 585.9,108.86 586.5,108.02 587.1,107.25 587.7,106.56 588.3,105.94 588.9,105.42 589.5,104.98 590.1,104.64 590.7,104.39 591.3,104.25 591.9,104.20 592.5,104.25 593.1,104.40 593.7,104.65 594.3,105.00 594.9,105.44 595.5,105.97 596.1,106.59 596.7,107.28 597.3,108.06 597.9,108.90 598.5,109.81 599.1,110.77 599.7,111.78 600.3,112.83 600.9,113.92 601.5,115.03 602.1,116.15 602.7,117.28 603.3,118.41 603.9,119.53 604.5,120.63 605.1,121.71 605.7,122.74 606.3,123.74 606.9,124.67 607.5,125.52 608.1,126.25 608.7,126.85 609.3,127.34 609.9,127.69 610.5,127.91 611.1,128.00 611.7,127.95 612.3,127.77 612.9,127.45 613.5,127.02 614.1,126.54 614.7,126.03 615.3,125.51 615.9,124.97 616.5,124.42 617.1,123.86 617.7,123.30 618.3,122.74 618.9,122.19 619.5,121.65 620.1,121.12 620.7,120.62 621.3,120.13 622.0,119.67 622.6,119.25 623.2,118.85 623.8,118.49 624.4,118.18 625.0,117.90 625.6,117.67 626.2,117.48 626.8,117.34 627.4,117.25 628.0,117.20 628.6,117.21 629.2,117.27 629.8,117.37 630.4,117.52 631.0,117.72 631.6,117.97 632.2,118.25 632.8,118.58 633.4,118.95 634.0,119.36 634.6,119.79 635.2,120.26 635.8,120.75 636.4,121.26 637.0,121.79 637.6,122.33 638.2,122.89 638.8,123.45 639.4,124.01 640.0,124.56 640.6,125.11 641.2,125.65 641.8,126.17 642.4,126.67 643.0,127.14 643.6,127.59 644.2,128.00 644.8,128.38 645.4,128.73 646.0,129.03 646.6,129.29 647.2,129.51 647.8,129.68 648.4,129.80 649.0,129.88 649.6,129.90" fill="none" stroke="#484848" stroke-width="0.9" stroke-linejoin="round"/>
<polyline points="497.9,129.90 498.5,129.89 499.1,129.85 499.7,129.78 500.3,129.69 501.0,129.57 501.6,129.43 502.2,129.27 502.8,129.08 503.4,128.87 504.0,128.65 504.6,128.41 505.2,128.15 505.8,127.88 506.4,127.60 507.0,127.31 507.6,127.02 508.2,126.72 508.8,126.42 509.4,126.12 510.0,125.82 510.6,125.53 511.2,125.24 511.8,124.97 512.4,124.71 513.0,124.46 513.6,124.22 514.2,124.01 514.8,123.82 515.4,123.64 516.0,123.49 516.7,123.36 517.3,123.26 517.9,123.18 518.5,123.13 519.1,123.10 519.7,123.10 520.3,123.13 520.9,123.19 521.5,123.27 522.1,123.37 522.7,123.50 523.3,123.66 523.9,123.83 524.5,124.03 525.1,124.25 525.7,124.48 526.3,124.73 526.9,124.99 527.5,125.27 528.1,125.55 528.7,125.85 529.3,126.14 529.9,126.45 530.5,126.75 531.1,127.05 531.7,127.34 532.3,127.63 533.0,127.91 533.6,128.18 534.2,128.43 534.8,128.65 535.4,128.81 536.0,128.90 536.6,128.92 537.2,128.88 537.8,128.77 538.4,128.59 539.0,128.35 539.6,128.05 540.2,127.69 540.8,127.27 541.4,126.81 542.0,126.33 542.6,125.82 543.2,125.31 543.8,124.78 544.4,124.24 545.0,123.70 545.6,123.16 546.2,122.63 546.8,122.10 547.4,121.59 548.0,121.10 548.6,120.62 549.3,120.18 549.9,119.76 550.5,119.37 551.1,119.01 551.7,118.70 552.3,118.42 552.9,118.19 553.5,118.00 554.1,117.85 554.7,117.76 555.3,117.71 555.9,117.70 556.5,117.75 557.1,117.84 557.7,117.98 558.3,118.17 558.9,118.40 559.5,118.67 560.1,118.98 560.7,119.33 561.3,119.72 561.9,120.14 562.5,120.58 563.1,121.05 563.7,121.55 564.3,122.06 565.0,122.58 565.6,123.11 566.2,123.65 566.8,124.19 567.4,124.73 568.0,125.26 568.6,125.78 569.2,126.28 569.8,126.76 570.4,127.22 571.0,127.66 571.6,128.06 572.2,128.43 572.8,128.76 573.4,129.06 574.0,129.31 574.6,129.52 575.2,129.69 575.8,129.80 576.4,129.88 577.0,129.90" fill="none" stroke="#f05a5a" stroke-width="0.9" stroke-linejoin="round"/>
<polyline points="606.8,129.90 607.4,129.89 608.0,129.86 608.6,129.81 609.2,129.73 609.8,129.64 610.4,129.53 611.0,129.40 611.6,129.25 612.2,129.09 612.8,128.91 613.4,128.72 614.0,128.52 614.6,128.31 615.2,128.09 615.8,127.86 616.4,127.62 617.0,127.39 617.6,127.15 618.2,126.91 618.8,126.68 619.4,126.44 620.0,126.22 620.6,126.00 621.2,125.79 621.8,125.59 622.4,125.41 623.0,125.24 623.6,125.08 624.2,124.94 624.8,124.82 625.4,124.72 626.0,124.63 626.6,124.57 627.2,124.53 627.8,124.50 628.4,124.50 629.0,124.52 629.6,124.56 630.2,124.62 630.8,124.70 631.4,124.80 632.0,124.92 632.7,125.06 633.3,125.21 633.9,125.38 634.5,125.57 635.1,125.76 635.7,125.97 636.3,126.19 636.9,126.41 637.5,126.64 638.1,126.88 638.7,127.12 639.3,127.35 639.9,127.59 640.5,127.83 641.1,128.05 641.7,128.28 642.3,128.49 642.9,128.70 643.5,128.88 644.1,129.00 644.7,129.08 645.3,129.09 645.9,129.05 646.5,128.95 647.1,128.79 647.7,128.58 648.3,128.32 648.9,128.00 649.5,127.64 650.1,127.23 650.7,126.81 651.3,126.37 651.9,125.91 652.5,125.44 653.1,124.97 653.7,124.48 654.3,124.00 654.9,123.53 655.5,123.06 656.1,122.60 656.7,122.15 657.3,121.73 657.9,121.32 658.5,120.94 659.1,120.58 659.7,120.26 660.3,119.97 660.9,119.71 661.5,119.49 662.1,119.31 662.7,119.17 663.3,119.07 663.9,119.02 664.5,119.00 665.1,119.03 665.7,119.10 666.4,119.21 667.0,119.36 667.6,119.55 668.2,119.78 668.8,120.05 669.4,120.35 670.0,120.68 670.6,121.04 671.2,121.43 671.8,121.85 672.4,122.28 673.0,122.73 673.6,123.19 674.2,123.66 674.8,124.14 675.4,124.62 676.0,125.10 676.6,125.58 677.2,126.04 677.8,126.50 678.4,126.93 679.0,127.35 679.6,127.75 680.2,128.12 680.8,128.46 681.4,128.77 682.0,129.05 682.6,129.29" fill="none" stroke="#f05a5a" stroke-width="0.9" stroke-linejoin="round"/>
<polyline points="643.1,129.90 643.7,129.89 644.3,129.84 644.9,129.77 645.5,129.67 646.1,129.54 646.7,129.39 647.3,129.21 647.9,129.01 648.5,128.78 649.1,128.54 649.7,128.28 650.4,128.00 651.0,127.70 651.6,127.40 652.2,127.09 652.8,126.77 653.4,126.44 654.0,126.12 654.6,125.79 655.2,125.47 655.8,125.16 656.4,124.85 657.0,124.56 657.7,124.27 658.3,124.01 658.9,123.76 659.5,123.53 660.1,123.33 660.7,123.14 661.3,122.98 661.9,122.85 662.5,122.75 663.1,122.67 663.7,122.62 664.3,122.60 665.0,122.61 665.6,122.65 666.2,122.71 666.8,122.81 667.4,122.93 668.0,123.08 668.6,123.26 669.2,123.45 669.8,123.67 670.4,123.91 671.0,124.17 671.6,124.45 672.3,124.74 672.9,125.04 673.5,125.35 674.1,125.67 674.7,126.00 675.3,126.32 675.9,126.65 676.5,126.97 677.1,127.29 677.7,127.59 678.3,127.89 678.9,128.18 679.6,128.44 680.2,128.70 680.8,128.93 681.4,129.14 682.0,129.33 682.6,129.49" fill="none" stroke="#5a5af0" stroke-width="0.9" stroke-linejoin="round"/>
<text transform="translate(337.9,100.6) scale(1.15,0.72)" class="ss" font-size="5.5" font-weight="bold" text-anchor="middle" fill="#6abf6a">A</text>
<text transform="translate(374.2,100.6) scale(1.15,0.72)" class="ss" font-size="5.5" font-weight="bold" text-anchor="middle" fill="#444">G</text>
<text transform="translate(410.5,100.6) scale(1.15,0.72)" class="ss" font-size="5.5" font-weight="bold" text-anchor="middle" fill="#444">G</text>
<text transform="translate(446.8,100.6) scale(1.15,0.72)" class="ss" font-size="5.5" font-weight="bold" text-anchor="middle" fill="#6abf6a">A</text>
<text transform="translate(483.1,100.6) scale(1.15,0.72)" class="ss" font-size="5.5" font-weight="bold" text-anchor="middle" fill="#444">G</text>
<text transform="translate(519.3,100.6) scale(1.15,0.72)" class="ss" font-size="5.5" font-weight="bold" text-anchor="middle" fill="#444">G</text>
<text transform="translate(555.6,100.6) scale(1.15,0.72)" class="ss" font-size="5.5" font-weight="bold" text-anchor="middle" fill="#f05a5a">T</text>
<text transform="translate(591.9,100.6) scale(1.15,0.72)" class="ss" font-size="5.5" font-weight="bold" text-anchor="middle" fill="#444">G</text>
<text transform="translate(628.2,100.6) scale(1.15,0.72)" class="ss" font-size="5.5" font-weight="bold" text-anchor="middle" fill="#444">G</text>
<text transform="translate(664.5,100.6) scale(1.15,0.72)" class="ss" font-size="5.5" font-weight="bold" text-anchor="middle" fill="#f05a5a">T</text>
<rect x="518.9" y="101.2" width="2.8" height="1.6" fill="#ee2222"/>
<rect x="555.2" y="101.2" width="2.8" height="1.6" fill="#ee2222"/>
<rect x="627.8" y="101.2" width="2.8" height="1.6" fill="#ee2222"/>
<rect x="664.1" y="101.2" width="2.8" height="1.6" fill="#ee2222"/>
<text x="414.3" y="96.7" class="ss" font-size="4.8" font-weight="bold" text-anchor="middle" fill="#444">270</text>
<text x="595.7" y="96.7" class="ss" font-size="4.8" font-weight="bold" text-anchor="middle" fill="#444">275</text>
<rect x="409.15" y="105.0" width="1.7" height="6.2" fill="#ee0000"/>
<path d="M407.7 111.0 L412.3 111.0 L410.0 115.6 Z" fill="#ee0000"/>
<line x1="319.8" y1="144.5" x2="682.6" y2="144.5" stroke="#b4b4b4" stroke-width="0.7" stroke-dasharray="1.4 2.0"/>
<line x1="319.8" y1="148.9" x2="682.6" y2="148.9" stroke="#b4b4b4" stroke-width="0.7" stroke-dasharray="1.4 2.0"/>
<line x1="319.8" y1="153.3" x2="682.6" y2="153.3" stroke="#b4b4b4" stroke-width="0.7" stroke-dasharray="1.4 2.0"/>
<line x1="319.8" y1="157.7" x2="682.6" y2="157.7" stroke="#b4b4b4" stroke-width="0.7" stroke-dasharray="1.4 2.0"/>
<line x1="319.8" y1="162.1" x2="682.6" y2="162.1" stroke="#b4b4b4" stroke-width="0.7" stroke-dasharray="1.4 2.0"/>
<line x1="319.8" y1="166.4" x2="682.6" y2="166.4" stroke="#b4b4b4" stroke-width="0.7" stroke-dasharray="1.4 2.0"/>
<line x1="319.8" y1="170.8" x2="682.6" y2="170.8" stroke="#b4b4b4" stroke-width="0.7" stroke-dasharray="1.4 2.0"/>
<line x1="319.8" y1="175.1" x2="682.6" y2="175.1" stroke="#b4b4b4" stroke-width="0.7" stroke-dasharray="1.4 2.0"/>
<line x1="319.80" y1="141.1" x2="319.80" y2="179.2" stroke="#999" stroke-width="0.8" stroke-dasharray="1.1 1.6"/>
<line x1="356.08" y1="141.1" x2="356.08" y2="179.2" stroke="#999" stroke-width="0.8" stroke-dasharray="1.1 1.6"/>
<line x1="392.36" y1="141.1" x2="392.36" y2="179.2" stroke="#999" stroke-width="0.8" stroke-dasharray="1.1 1.6"/>
<line x1="428.64" y1="141.1" x2="428.64" y2="179.2" stroke="#999" stroke-width="0.8" stroke-dasharray="1.1 1.6"/>
<line x1="464.92" y1="141.1" x2="464.92" y2="179.2" stroke="#999" stroke-width="0.8" stroke-dasharray="1.1 1.6"/>
<line x1="501.20" y1="141.1" x2="501.20" y2="179.2" stroke="#999" stroke-width="0.8" stroke-dasharray="1.1 1.6"/>
<line x1="537.48" y1="141.1" x2="537.48" y2="179.2" stroke="#999" stroke-width="0.8" stroke-dasharray="1.1 1.6"/>
<line x1="573.76" y1="141.1" x2="573.76" y2="179.2" stroke="#999" stroke-width="0.8" stroke-dasharray="1.1 1.6"/>
<line x1="610.04" y1="141.1" x2="610.04" y2="179.2" stroke="#999" stroke-width="0.8" stroke-dasharray="1.1 1.6"/>
<line x1="646.32" y1="141.1" x2="646.32" y2="179.2" stroke="#999" stroke-width="0.8" stroke-dasharray="1.1 1.6"/>
<line x1="682.60" y1="141.1" x2="682.60" y2="179.2" stroke="#999" stroke-width="0.8" stroke-dasharray="1.1 1.6"/>
<line x1="319.8" y1="141.29999999999998" x2="682.6" y2="141.29999999999998" stroke="#bdbdbd" stroke-width="1.4"/>
<line x1="319.8" y1="178.70" x2="682.6" y2="178.70" stroke="#c8c8c8" stroke-width="1"/>
<line x1="319.8" y1="179.60" x2="682.6" y2="179.60" stroke="#555" stroke-width="1.1" stroke-dasharray="2.0 1.2"/>
<polyline points="319.8,178.25 320.4,177.87 321.0,177.44 321.6,176.95 322.2,176.41 322.8,175.83 323.5,175.21 324.1,174.55 324.7,173.86 325.3,173.15 325.9,172.42 326.5,171.67 327.1,170.92 327.7,170.17 328.3,169.42 328.9,168.68 329.5,167.96 330.1,167.26 330.8,166.58 331.4,165.94 332.0,165.34 332.6,164.79 333.2,164.28 333.8,163.82 334.4,163.41 335.0,163.07 335.6,162.79 336.2,162.57 336.8,162.41 337.4,162.32 338.1,162.30 338.7,162.35 339.3,162.46 339.9,162.64 340.5,162.88 341.1,163.19 341.7,163.56 342.3,163.98 342.9,164.46 343.5,164.99 344.1,165.56 344.7,166.17 345.4,166.83 346.0,167.51 346.6,168.22 347.2,168.95 347.8,169.69 348.4,170.44 349.0,171.20 349.6,171.95 350.2,172.69 350.8,173.41 351.4,174.12 352.0,174.80 352.7,175.44 353.3,176.05 353.9,176.62 354.5,177.13 355.1,177.60 355.7,178.02 356.3,178.37 356.9,178.67 357.5,178.90 358.1,179.07 358.7,179.17 359.3,179.20" fill="none" stroke="#6abf6a" stroke-width="0.9" stroke-linejoin="round"/>
<polyline points="425.4,179.20 426.0,179.15 426.6,178.99 427.2,178.74 427.8,178.38 428.4,177.93 429.0,177.39 429.6,176.76 430.2,176.04 430.8,175.25 431.4,174.38 432.0,173.45 432.6,172.46 433.2,171.42 433.8,170.33 434.4,169.22 435.0,168.08 435.6,166.92 436.2,165.76 436.8,164.60 437.4,163.45 438.0,162.32 438.6,161.22 439.2,160.16 439.8,159.14 440.4,158.18 441.1,157.28 441.7,156.45 442.3,155.69 442.9,155.02 443.5,154.43 444.1,153.93 444.7,153.53 445.3,153.22 445.9,153.02 446.5,152.91 447.1,152.91 447.7,153.02 448.3,153.22 448.9,153.53 449.5,153.93 450.1,154.43 450.7,155.02 451.3,155.69 451.9,156.45 452.5,157.28 453.1,158.18 453.7,159.14 454.3,160.16 454.9,161.22 455.5,162.32 456.1,163.45 456.7,164.60 457.3,165.76 457.9,166.92 458.5,168.08 459.1,169.22 459.7,170.33 460.3,171.42 460.9,172.46 461.6,173.45 462.2,174.38 462.8,175.25 463.4,176.04 464.0,176.76 464.6,177.39 465.2,177.93 465.8,178.38 466.4,178.74 467.0,178.99 467.6,179.15 468.2,179.20" fill="none" stroke="#6abf6a" stroke-width="0.9" stroke-linejoin="round"/>
<polyline points="352.8,179.20 353.4,179.18 354.0,179.13 354.6,179.04 355.2,178.92 355.8,178.76 356.4,178.57 357.0,178.35 357.6,178.10 358.2,177.83 358.9,177.53 359.5,177.20 360.1,176.86 360.7,176.50 361.3,176.13 361.9,175.74 362.5,175.34 363.1,174.94 363.7,174.54 364.3,174.14 364.9,173.74 365.5,173.35 366.1,172.97 366.7,172.60 367.3,172.25 367.9,171.92 368.5,171.61 369.1,171.32 369.7,171.06 370.3,170.82 370.9,170.62 371.5,170.45 372.1,170.31 372.7,170.21 373.3,170.14 373.9,170.10 374.5,170.11 375.2,170.14 375.8,170.22 376.4,170.32 377.0,170.46 377.6,170.64 378.2,170.84 378.8,171.08 379.4,171.34 380.0,171.63 380.6,171.95 381.2,172.28 381.8,172.63 382.4,173.00 383.0,173.38 383.6,173.78 384.2,174.17 384.8,174.58 385.4,174.98 386.0,175.38 386.6,175.77 387.2,176.16 387.8,176.53 388.4,176.89 389.0,177.23 389.6,177.53 390.2,177.74 390.9,177.87 391.5,177.91 392.1,177.87 392.7,177.74 393.3,177.52 393.9,177.22 394.5,176.84 395.1,176.39 395.7,175.85 396.3,175.27 396.9,174.66 397.5,174.02 398.1,173.37 398.7,172.69 399.3,172.01 399.9,171.33 400.5,170.64 401.1,169.96 401.7,169.29 402.3,168.64 402.9,168.02 403.5,167.41 404.1,166.84 404.7,166.31 405.3,165.82 405.9,165.37 406.5,164.97 407.2,164.62 407.8,164.32 408.4,164.08 409.0,163.90 409.6,163.77 410.2,163.71 410.8,163.71 411.4,163.76 412.0,163.88 412.6,164.06 413.2,164.30 413.8,164.59 414.4,164.93 415.0,165.33 415.6,165.77 416.2,166.26 416.8,166.79 417.4,167.36 418.0,167.96 418.6,168.59 419.2,169.23 419.8,169.90 420.4,170.58 421.0,171.26 421.6,171.95 422.2,172.63 422.8,173.30 423.5,173.96 424.1,174.60 424.7,175.22 425.3,175.80 425.9,176.35 426.5,176.86 427.1,177.33 427.7,177.76 428.3,178.13 428.9,178.45 429.5,178.72 430.1,178.93 430.7,179.08 431.3,179.17 431.9,179.20" fill="none" stroke="#484848" stroke-width="0.9" stroke-linejoin="round"/>
<polyline points="461.7,179.20 462.3,179.18 462.9,179.12 463.5,179.02 464.1,178.88 464.7,178.71 465.3,178.50 465.9,178.25 466.5,177.97 467.1,177.66 467.7,177.33 468.3,176.96 468.9,176.58 469.5,176.17 470.1,175.75 470.7,175.32 471.3,174.88 471.9,174.43 472.5,173.98 473.1,173.53 473.7,173.08 474.3,172.64 474.9,172.21 475.5,171.80 476.1,171.41 476.7,171.04 477.4,170.69 478.0,170.37 478.6,170.07 479.2,169.81 479.8,169.58 480.4,169.39 481.0,169.24 481.6,169.12 482.2,169.04 482.8,169.00 483.4,169.01 484.0,169.05 484.6,169.13 485.2,169.25 485.8,169.41 486.4,169.60 487.0,169.83 487.6,170.10 488.2,170.39 488.8,170.72 489.4,171.07 490.0,171.44 490.6,171.84 491.2,172.25 491.8,172.68 492.4,173.12 493.0,173.57 493.7,174.02 494.3,174.47 494.9,174.92 495.5,175.36 496.1,175.79 496.7,176.21 497.3,176.61 497.9,177.00 498.5,177.32 499.1,177.55 499.7,177.66 500.3,177.67 500.9,177.58 501.5,177.37 502.1,177.06 502.7,176.65 503.3,176.14 503.9,175.53 504.5,174.84 505.1,174.08 505.7,173.28 506.3,172.45 506.9,171.60 507.5,170.72 508.1,169.83 508.7,168.94 509.4,168.04 510.0,167.16 510.6,166.29 511.2,165.44 511.8,164.62 512.4,163.84 513.0,163.10 513.6,162.40 514.2,161.76 514.8,161.17 515.4,160.65 516.0,160.20 516.6,159.81 517.2,159.49 517.8,159.26 518.4,159.09 519.0,159.01 519.6,159.01 520.2,159.08 520.8,159.24 521.4,159.47 522.0,159.78 522.6,160.16 523.2,160.61 523.8,161.12 524.4,161.70 525.0,162.34 525.7,163.03 526.3,163.77 526.9,164.55 527.5,165.37 528.1,166.21 528.7,167.08 529.3,167.96 529.9,168.86 530.5,169.75 531.1,170.64 531.7,171.52 532.3,172.38 532.9,173.21 533.5,174.01 534.1,174.77 534.7,175.49 535.3,176.15 535.9,176.77 536.5,177.32 537.1,177.81 537.7,178.22 538.3,178.57 538.9,178.85 539.5,179.04 540.1,179.16 540.7,179.20" fill="none" stroke="#484848" stroke-width="0.9" stroke-linejoin="round"/>
<polyline points="570.5,179.20 571.1,179.15 571.7,179.02 572.3,178.79 572.9,178.47 573.5,178.07 574.1,177.58 574.7,177.01 575.3,176.37 575.9,175.66 576.5,174.88 577.1,174.05 577.7,173.16 578.3,172.23 578.9,171.26 579.6,170.26 580.2,169.24 580.8,168.21 581.4,167.17 582.0,166.13 582.6,165.10 583.2,164.09 583.8,163.11 584.4,162.16 585.0,161.25 585.6,160.39 586.2,159.59 586.8,158.85 587.4,158.17 588.0,157.57 588.6,157.05 589.2,156.60 589.8,156.25 590.4,155.98 591.0,155.80 591.6,155.71 592.2,155.71 592.8,155.81 593.4,156.00 594.0,156.28 594.6,156.64 595.2,157.09 595.9,157.62 596.5,158.23 597.1,158.91 597.7,159.66 598.3,160.47 598.9,161.33 599.5,162.24 600.1,163.20 600.7,164.18 601.3,165.19 601.9,166.22 602.5,167.26 603.1,168.30 603.7,169.34 604.3,170.35 604.9,171.35 605.5,172.32 606.1,173.24 606.7,174.13 607.3,174.93 607.9,175.62 608.5,176.18 609.1,176.61 609.7,176.91 610.3,177.07 610.9,177.10 611.5,177.00 612.2,176.76 612.8,176.38 613.4,175.87 614.0,175.30 614.6,174.69 615.2,174.06 615.8,173.40 616.4,172.74 617.0,172.06 617.6,171.38 618.2,170.70 618.8,170.02 619.4,169.36 620.0,168.71 620.6,168.09 621.2,167.49 621.8,166.92 622.4,166.39 623.0,165.90 623.6,165.46 624.2,165.06 624.8,164.71 625.4,164.42 626.0,164.18 626.6,164.00 627.2,163.87 627.9,163.81 628.5,163.81 629.1,163.86 629.7,163.98 630.3,164.16 630.9,164.39 631.5,164.68 632.1,165.03 632.7,165.42 633.3,165.86 633.9,166.35 634.5,166.87 635.1,167.44 635.7,168.03 636.3,168.65 636.9,169.30 637.5,169.96 638.1,170.63 638.7,171.31 639.3,172.00 639.9,172.67 640.5,173.34 641.1,174.00 641.7,174.63 642.3,175.24 642.9,175.82 643.5,176.37 644.2,176.88 644.8,177.35 645.4,177.77 646.0,178.14 646.6,178.46 647.2,178.72 647.8,178.93 648.4,179.08 649.0,179.17 649.6,179.20" fill="none" stroke="#484848" stroke-width="0.9" stroke-linejoin="round"/>
<polyline points="534.2,179.20 534.8,179.18 535.4,179.10 536.0,178.98 536.6,178.81 537.2,178.59 537.8,178.33 538.4,178.02 539.0,177.67 539.6,177.29 540.2,176.87 540.8,176.42 541.5,175.94 542.1,175.44 542.7,174.92 543.3,174.38 543.9,173.83 544.5,173.27 545.1,172.71 545.7,172.15 546.3,171.59 546.9,171.05 547.5,170.52 548.1,170.00 548.7,169.51 549.3,169.05 549.9,168.61 550.5,168.21 551.1,167.85 551.7,167.52 552.3,167.24 552.9,167.00 553.5,166.80 554.1,166.65 554.7,166.56 555.3,166.51 555.9,166.51 556.5,166.56 557.1,166.65 557.7,166.80 558.3,167.00 558.9,167.24 559.5,167.52 560.1,167.85 560.7,168.21 561.3,168.61 562.0,169.05 562.6,169.51 563.2,170.00 563.8,170.52 564.4,171.05 565.0,171.59 565.6,172.15 566.2,172.71 566.8,173.27 567.4,173.83 568.0,174.38 568.6,174.92 569.2,175.44 569.8,175.94 570.4,176.42 571.0,176.87 571.6,177.29 572.2,177.67 572.8,178.02 573.4,178.33 574.0,178.59 574.6,178.81 575.2,178.98 575.8,179.10 576.4,179.18 577.0,179.20" fill="none" stroke="#f05a5a" stroke-width="0.9" stroke-linejoin="round"/>
<polyline points="643.1,179.20 643.7,179.18 644.3,179.11 644.9,179.00 645.5,178.84 646.1,178.65 646.7,178.41 647.3,178.13 647.9,177.82 648.5,177.47 649.1,177.09 649.7,176.69 650.4,176.26 651.0,175.80 651.6,175.33 652.2,174.85 652.8,174.35 653.4,173.85 654.0,173.34 654.6,172.84 655.2,172.34 655.8,171.86 656.4,171.38 657.0,170.93 657.7,170.49 658.3,170.08 658.9,169.70 659.5,169.34 660.1,169.02 660.7,168.74 661.3,168.49 661.9,168.29 662.5,168.13 663.1,168.01 663.7,167.93 664.3,167.90 665.0,167.92 665.6,167.97 666.2,168.08 666.8,168.22 667.4,168.41 668.0,168.65 668.6,168.91 669.2,169.22 669.8,169.56 670.4,169.94 671.0,170.34 671.6,170.76 672.3,171.21 672.9,171.68 673.5,172.16 674.1,172.66 674.7,173.16 675.3,173.66 675.9,174.17 676.5,174.67 677.1,175.15 677.7,175.63 678.3,176.09 678.9,176.53 679.6,176.95 680.2,177.34 680.8,177.70 681.4,178.02 682.0,178.31 682.6,178.56" fill="none" stroke="#f05a5a" stroke-width="0.9" stroke-linejoin="round"/>
<text transform="translate(337.9,148.8) scale(1.15,0.72)" class="ss" font-size="5.5" font-weight="bold" text-anchor="middle" fill="#6abf6a">A</text>
<text transform="translate(374.2,148.8) scale(1.15,0.72)" class="ss" font-size="5.5" font-weight="bold" text-anchor="middle" fill="#444">G</text>
<text transform="translate(410.5,148.8) scale(1.15,0.72)" class="ss" font-size="5.5" font-weight="bold" text-anchor="middle" fill="#444">G</text>
<text transform="translate(446.8,148.8) scale(1.15,0.72)" class="ss" font-size="5.5" font-weight="bold" text-anchor="middle" fill="#6abf6a">A</text>
<text transform="translate(483.1,148.8) scale(1.15,0.72)" class="ss" font-size="5.5" font-weight="bold" text-anchor="middle" fill="#444">G</text>
<text transform="translate(519.3,148.8) scale(1.15,0.72)" class="ss" font-size="5.5" font-weight="bold" text-anchor="middle" fill="#444">G</text>
<text transform="translate(555.6,148.8) scale(1.15,0.72)" class="ss" font-size="5.5" font-weight="bold" text-anchor="middle" fill="#f05a5a">T</text>
<text transform="translate(591.9,148.8) scale(1.15,0.72)" class="ss" font-size="5.5" font-weight="bold" text-anchor="middle" fill="#444">G</text>
<text transform="translate(628.2,148.8) scale(1.15,0.72)" class="ss" font-size="5.5" font-weight="bold" text-anchor="middle" fill="#444">G</text>
<text transform="translate(664.5,148.8) scale(1.15,0.72)" class="ss" font-size="5.5" font-weight="bold" text-anchor="middle" fill="#f05a5a">T</text>
<text x="378.0" y="145.7" class="ss" font-size="4.8" font-weight="bold" text-anchor="middle" fill="#444">405</text>
<text x="559.4" y="145.7" class="ss" font-size="4.8" font-weight="bold" text-anchor="middle" fill="#444">410</text>
</g>
<g id="pc">
<text x="243.5" y="188.8" class="ss" font-weight="bold" font-size="18">c</text>
<rect x="285.0" y="191.2" width="245.89999999999998" height="160.3" fill="#eeeefe"/>
<rect x="530.9" y="191.2" width="149.70000000000005" height="160.3" fill="#d8d8d8"/>
<line x1="278.3" y1="191.2" x2="278.3" y2="354.4" stroke="#c4909c" stroke-width="0.9"/>
<line x1="273.2" y1="191.38" x2="278.3" y2="191.38" stroke="#777" stroke-width="0.8"/>
<text x="272.2" y="192.88" class="ss" font-size="4.5" text-anchor="end" fill="#444">2.5</text>
<line x1="273.2" y1="223.40" x2="278.3" y2="223.40" stroke="#777" stroke-width="0.8"/>
<text x="272.2" y="224.90" class="ss" font-size="4.5" text-anchor="end" fill="#444">2</text>
<line x1="273.2" y1="255.43" x2="278.3" y2="255.43" stroke="#777" stroke-width="0.8"/>
<text x="272.2" y="256.93" class="ss" font-size="4.5" text-anchor="end" fill="#444">1.5</text>
<line x1="273.2" y1="287.45" x2="278.3" y2="287.45" stroke="#777" stroke-width="0.8"/>
<text x="272.2" y="288.95" class="ss" font-size="4.5" text-anchor="end" fill="#444">1</text>
<line x1="273.2" y1="319.48" x2="278.3" y2="319.48" stroke="#777" stroke-width="0.8"/>
<text x="272.2" y="320.98" class="ss" font-size="4.5" text-anchor="end" fill="#444">0.5</text>
<line x1="273.2" y1="351.50" x2="278.3" y2="351.50" stroke="#777" stroke-width="0.8"/>
<text x="272.2" y="353.00" class="ss" font-size="4.5" text-anchor="end" fill="#444">0</text>
<line x1="291.4" y1="306.9" x2="675" y2="306.9" stroke="#e4606e" stroke-width="1.5"/>
<rect x="286.25" y="291" width="10.40" height="60.50" fill="rgb(134,180,234)" fill-opacity="0.72" stroke="#84ace2" stroke-width="0.7"/>
<rect x="299.94" y="291.1" width="10.40" height="60.40" fill="rgb(134,180,234)" fill-opacity="0.72" stroke="#84ace2" stroke-width="0.7"/>
<rect x="313.62" y="293.3" width="10.40" height="58.20" fill="rgb(134,180,234)" fill-opacity="0.72" stroke="#84ace2" stroke-width="0.7"/>
<rect x="327.31" y="293.3" width="10.40" height="58.20" fill="rgb(134,180,234)" fill-opacity="0.72" stroke="#84ace2" stroke-width="0.7"/>
<rect x="340.99" y="321.4" width="10.40" height="30.10" fill="rgb(134,180,234)" fill-opacity="0.72" stroke="#84ace2" stroke-width="0.7"/>
<rect x="354.68" y="319.2" width="10.40" height="32.30" fill="rgb(134,180,234)" fill-opacity="0.72" stroke="#84ace2" stroke-width="0.7"/>
<rect x="368.37" y="322.2" width="10.40" height="29.30" fill="rgb(134,180,234)" fill-opacity="0.72" stroke="#84ace2" stroke-width="0.7"/>
<rect x="382.05" y="294.2" width="10.40" height="57.30" fill="rgb(134,180,234)" fill-opacity="0.72" stroke="#84ace2" stroke-width="0.7"/>
<rect x="395.74" y="290.3" width="10.40" height="61.20" fill="rgb(134,180,234)" fill-opacity="0.72" stroke="#84ace2" stroke-width="0.7"/>
<rect x="409.42" y="293.9" width="10.40" height="57.60" fill="rgb(134,180,234)" fill-opacity="0.72" stroke="#84ace2" stroke-width="0.7"/>
<rect x="423.11" y="293.3" width="10.40" height="58.20" fill="rgb(134,180,234)" fill-opacity="0.72" stroke="#84ace2" stroke-width="0.7"/>
<rect x="436.80" y="292.4" width="10.40" height="59.10" fill="rgb(134,180,234)" fill-opacity="0.72" stroke="#84ace2" stroke-width="0.7"/>
<rect x="450.48" y="292.9" width="10.40" height="58.60" fill="rgb(134,180,234)" fill-opacity="0.72" stroke="#84ace2" stroke-width="0.7"/>
<rect x="464.17" y="291.1" width="10.40" height="60.40" fill="rgb(134,180,234)" fill-opacity="0.72" stroke="#84ace2" stroke-width="0.7"/>
<rect x="477.85" y="290.4" width="10.40" height="61.10" fill="rgb(134,180,234)" fill-opacity="0.72" stroke="#84ace2" stroke-width="0.7"/>
<rect x="491.54" y="291.3" width="10.40" height="60.20" fill="rgb(134,180,234)" fill-opacity="0.72" stroke="#84ace2" stroke-width="0.7"/>
<rect x="505.23" y="294.2" width="10.40" height="57.30" fill="rgb(134,180,234)" fill-opacity="0.72" stroke="#84ace2" stroke-width="0.7"/>
<rect x="518.91" y="293.3" width="10.40" height="58.20" fill="rgb(134,180,234)" fill-opacity="0.72" stroke="#84ace2" stroke-width="0.7"/>
<rect x="532.60" y="292.4" width="10.40" height="59.10" fill="rgb(130,176,212)" fill-opacity="0.72" stroke="#86aad0" stroke-width="0.7"/>
<rect x="546.28" y="291.3" width="10.40" height="60.20" fill="rgb(130,176,212)" fill-opacity="0.72" stroke="#86aad0" stroke-width="0.7"/>
<rect x="559.97" y="291.3" width="10.40" height="60.20" fill="rgb(130,176,212)" fill-opacity="0.72" stroke="#86aad0" stroke-width="0.7"/>
<rect x="573.66" y="290.3" width="10.40" height="61.20" fill="rgb(130,176,212)" fill-opacity="0.72" stroke="#86aad0" stroke-width="0.7"/>
<rect x="587.34" y="291.6" width="10.40" height="59.90" fill="rgb(130,176,212)" fill-opacity="0.72" stroke="#86aad0" stroke-width="0.7"/>
<rect x="601.03" y="288.5" width="10.40" height="63.00" fill="rgb(130,176,212)" fill-opacity="0.72" stroke="#86aad0" stroke-width="0.7"/>
<rect x="614.71" y="289.5" width="10.40" height="62.00" fill="rgb(130,176,212)" fill-opacity="0.72" stroke="#86aad0" stroke-width="0.7"/>
<rect x="628.40" y="290.6" width="10.40" height="60.90" fill="rgb(130,176,212)" fill-opacity="0.72" stroke="#86aad0" stroke-width="0.7"/>
<rect x="642.09" y="290.3" width="10.40" height="61.20" fill="rgb(130,176,212)" fill-opacity="0.72" stroke="#86aad0" stroke-width="0.7"/>
<rect x="655.77" y="289.8" width="10.40" height="61.70" fill="rgb(130,176,212)" fill-opacity="0.72" stroke="#86aad0" stroke-width="0.7"/>
<rect x="669.46" y="293.3" width="10.40" height="58.20" fill="rgb(130,176,212)" fill-opacity="0.72" stroke="#86aad0" stroke-width="0.7"/>
<line x1="291.4" y1="268.24" x2="675" y2="268.24" stroke="#4a4ac8" stroke-width="1"/>
<rect x="286.20" y="285.2" width="11.20" height="4.20" fill="#a9c4e6" stroke="#6d7d8d" stroke-width="0.9"/>
<ellipse cx="291.45" cy="288.3" rx="2.35" ry="2.1" fill="#000" stroke="#a01010" stroke-width="0.5"/>
<line x1="299.79" y1="285.4" x2="311.09" y2="285.4" stroke="#888" stroke-width="0.8"/>
<rect x="299.89" y="286.8" width="11.20" height="2.20" fill="#a9c4e6" stroke="#6d7d8d" stroke-width="0.9"/>
<ellipse cx="305.14" cy="288.3" rx="2.35" ry="2.1" fill="#000" stroke="#a01010" stroke-width="0.5"/>
<line x1="313.47" y1="287.8" x2="324.77" y2="287.8" stroke="#3a424c" stroke-width="1.8"/>
<ellipse cx="318.82" cy="287.6" rx="1.3" ry="1.1" fill="#e8e858"/>
<ellipse cx="318.82" cy="291.1" rx="2.7" ry="2.1" fill="#9a20e0"/>
<rect x="327.26" y="286" width="11.20" height="3.40" fill="#a9c4e6" stroke="#6d7d8d" stroke-width="0.9"/>
<ellipse cx="332.51" cy="287.8" rx="1.3" ry="1.1" fill="#e8e858"/>
<ellipse cx="332.51" cy="290.3" rx="2.35" ry="2.1" fill="#000" stroke="#a01010" stroke-width="0.5"/>
<rect x="340.94" y="286" width="11.20" height="3.60" fill="#a9c4e6" stroke="#6d7d8d" stroke-width="0.9"/>
<ellipse cx="346.19" cy="288.40000000000003" rx="1.3" ry="1.1" fill="#e8e858"/>
<rect x="354.63" y="285.4" width="11.20" height="4.40" fill="#a9c4e6" stroke="#6d7d8d" stroke-width="0.9"/>
<ellipse cx="359.88" cy="288.20000000000005" rx="1.3" ry="1.1" fill="#e8e858"/>
<rect x="368.32" y="286.3" width="11.20" height="2.70" fill="#a9c4e6" stroke="#6d7d8d" stroke-width="0.9"/>
<ellipse cx="373.57" cy="288.25" rx="1.3" ry="1.1" fill="#e8e858"/>
<line x1="340.84" y1="318.3" x2="352.14" y2="318.3" stroke="#777" stroke-width="0.8"/>
<ellipse cx="346.19" cy="319.6" rx="2.6" ry="1.9" fill="#ee0000"/>
<line x1="354.53" y1="316.3" x2="365.83" y2="316.3" stroke="#777" stroke-width="0.8"/>
<ellipse cx="359.88" cy="318" rx="2.6" ry="1.9" fill="#ee0000"/>
<line x1="368.22" y1="319.2" x2="379.52" y2="319.2" stroke="#777" stroke-width="0.8"/>
<ellipse cx="373.57" cy="320.5" rx="2.6" ry="1.9" fill="#ee0000"/>
<line x1="381.90" y1="287.8" x2="393.20" y2="287.8" stroke="#3a424c" stroke-width="1.8"/>
<ellipse cx="387.25" cy="287.6" rx="1.3" ry="1.1" fill="#e8e858"/>
<ellipse cx="387.25" cy="291.3" rx="2.7" ry="2.1" fill="#9a20e0"/>
<line x1="395.59" y1="284.3" x2="406.89" y2="284.3" stroke="#888" stroke-width="0.8"/>
<line x1="395.59" y1="289.4" x2="406.89" y2="289.4" stroke="#888" stroke-width="0.8"/>
<ellipse cx="400.94" cy="287.2" rx="2.35" ry="2.1" fill="#000" stroke="#a01010" stroke-width="0.5"/>
<line x1="409.27" y1="287.5" x2="420.57" y2="287.5" stroke="#3a424c" stroke-width="1.8"/>
<ellipse cx="414.62" cy="287.6" rx="1.3" ry="1.1" fill="#e8e858"/>
<ellipse cx="414.62" cy="291.3" rx="2.35" ry="2.1" fill="#000" stroke="#a01010" stroke-width="0.5"/>
<line x1="422.96" y1="287.8" x2="434.26" y2="287.8" stroke="#3a424c" stroke-width="1.8"/>
<ellipse cx="428.31" cy="287.6" rx="1.3" ry="1.1" fill="#e8e858"/>
<ellipse cx="428.31" cy="291" rx="2.7" ry="2.1" fill="#9a20e0"/>
<rect x="436.75" y="285.4" width="11.20" height="4.20" fill="#a9c4e6" stroke="#6d7d8d" stroke-width="0.9"/>
<ellipse cx="442.00" cy="289.2" rx="2.35" ry="2.1" fill="#000" stroke="#a01010" stroke-width="0.5"/>
<rect x="450.43" y="284.8" width="11.20" height="5.90" fill="#a9c4e6" stroke="#6d7d8d" stroke-width="0.9"/>
<ellipse cx="455.68" cy="289" rx="2.35" ry="2.1" fill="#000" stroke="#a01010" stroke-width="0.5"/>
<rect x="464.12" y="285.7" width="11.20" height="3.50" fill="#a9c4e6" stroke="#6d7d8d" stroke-width="0.9"/>
<ellipse cx="469.37" cy="288.5" rx="2.35" ry="2.1" fill="#000" stroke="#a01010" stroke-width="0.5"/>
<line x1="477.70" y1="282.2" x2="489.00" y2="282.2" stroke="#888" stroke-width="0.8"/>
<rect x="477.80" y="284.6" width="11.20" height="5.70" fill="#a9c4e6" stroke="#6d7d8d" stroke-width="0.9"/>
<ellipse cx="483.05" cy="286.6" rx="2.35" ry="2.1" fill="#000" stroke="#a01010" stroke-width="0.5"/>
<rect x="491.49" y="285.4" width="11.20" height="4.00" fill="#a9c4e6" stroke="#6d7d8d" stroke-width="0.9"/>
<ellipse cx="496.74" cy="288.5" rx="2.35" ry="2.1" fill="#000" stroke="#a01010" stroke-width="0.5"/>
<rect x="505.18" y="284.1" width="11.20" height="6.90" fill="#b4d4f0" stroke="#6d7d8d" stroke-width="0.9"/>
<ellipse cx="510.43" cy="287.6" rx="1.3" ry="1.1" fill="#e8e858"/>
<ellipse cx="510.43" cy="289.8" rx="2.35" ry="2.1" fill="#000" stroke="#a01010" stroke-width="0.5"/>
<line x1="518.76" y1="287.6" x2="530.06" y2="287.6" stroke="#3a424c" stroke-width="1.8"/>
<ellipse cx="524.11" cy="287.6" rx="1.3" ry="1.1" fill="#e8e858"/>
<ellipse cx="524.11" cy="290.3" rx="2.35" ry="2.1" fill="#000" stroke="#a01010" stroke-width="0.5"/>
<rect x="532.55" y="284.3" width="11.20" height="6.40" fill="#5ccc5c" stroke="#3a6a3a" stroke-width="0.9"/>
<ellipse cx="537.80" cy="288.3" rx="2.35" ry="2.1" fill="#000" stroke="#a01010" stroke-width="0.5"/>
<line x1="546.13" y1="286.8" x2="557.43" y2="286.8" stroke="#3a424c" stroke-width="1.8"/>
<ellipse cx="551.48" cy="289" rx="2.35" ry="2.1" fill="#000" stroke="#a01010" stroke-width="0.5"/>
<line x1="559.82" y1="287.2" x2="571.12" y2="287.2" stroke="#4a7a4a" stroke-width="1.6"/>
<ellipse cx="565.17" cy="288.7" rx="2.35" ry="2.1" fill="#000" stroke="#a01010" stroke-width="0.5"/>
<line x1="573.51" y1="285" x2="584.81" y2="285" stroke="#888" stroke-width="0.8"/>
<line x1="573.51" y1="286.8" x2="584.81" y2="286.8" stroke="#3a424c" stroke-width="1.8"/>
<ellipse cx="578.86" cy="287.5" rx="2.35" ry="2.1" fill="#000" stroke="#a01010" stroke-width="0.5"/>
<line x1="587.19" y1="286.8" x2="598.49" y2="286.8" stroke="#3a424c" stroke-width="1.8"/>
<ellipse cx="592.54" cy="289.2" rx="2.35" ry="2.1" fill="#000" stroke="#a01010" stroke-width="0.5"/>
<line x1="600.88" y1="282.8" x2="612.18" y2="282.8" stroke="#888" stroke-width="0.8"/>
<line x1="600.88" y1="287.8" x2="612.18" y2="287.8" stroke="#3a424c" stroke-width="1.8"/>
<ellipse cx="606.23" cy="285.4" rx="2.35" ry="2.1" fill="#000" stroke="#a01010" stroke-width="0.5"/>
<line x1="614.56" y1="282.4" x2="625.86" y2="282.4" stroke="#888" stroke-width="0.8"/>
<rect x="614.66" y="286.2" width="11.20" height="2.80" fill="#5ccc5c" stroke="#3a6a3a" stroke-width="0.9"/>
<ellipse cx="619.91" cy="288.6" rx="1.3" ry="1.1" fill="#e8e858"/>
<ellipse cx="619.91" cy="285.4" rx="2.35" ry="2.1" fill="#000" stroke="#a01010" stroke-width="0.5"/>
<line x1="628.25" y1="284.4" x2="639.55" y2="284.4" stroke="#888" stroke-width="0.8"/>
<line x1="628.25" y1="287.6" x2="639.55" y2="287.6" stroke="#4a7a4a" stroke-width="1.6"/>
<ellipse cx="633.60" cy="287.6" rx="2.35" ry="2.1" fill="#000" stroke="#a01010" stroke-width="0.5"/>
<line x1="641.94" y1="284.4" x2="653.24" y2="284.4" stroke="#888" stroke-width="0.8"/>
<line x1="641.94" y1="287.3" x2="653.24" y2="287.3" stroke="#4a7a4a" stroke-width="1.6"/>
<ellipse cx="647.29" cy="287.3" rx="2.35" ry="2.1" fill="#000" stroke="#a01010" stroke-width="0.5"/>
<line x1="655.62" y1="284.4" x2="666.92" y2="284.4" stroke="#888" stroke-width="0.8"/>
<line x1="655.62" y1="287.6" x2="666.92" y2="287.6" stroke="#4a7a4a" stroke-width="1.6"/>
<ellipse cx="660.97" cy="286.8" rx="2.35" ry="2.1" fill="#000" stroke="#a01010" stroke-width="0.5"/>
<line x1="669.31" y1="287.9" x2="680.61" y2="287.9" stroke="#3a424c" stroke-width="1.8"/>
<ellipse cx="674.66" cy="287.90000000000003" rx="1.3" ry="1.1" fill="#e8e858"/>
<ellipse cx="674.66" cy="290.9" rx="2.7" ry="2.1" fill="#9a20e0"/>
<rect x="345.05" y="265.2" width="1.9" height="5.9" fill="#ff0000"/>
<path d="M343.4 270.8 L348.6 270.8 L346.0 275.9 Z" fill="#ff0000"/>
<rect x="359.05" y="265.2" width="1.9" height="5.9" fill="#ff0000"/>
<path d="M357.4 270.8 L362.6 270.8 L360.0 275.9 Z" fill="#ff0000"/>
<rect x="372.55" y="265.2" width="1.9" height="5.9" fill="#ff0000"/>
<path d="M370.9 270.8 L376.1 270.8 L373.5 275.9 Z" fill="#ff0000"/>
<line x1="278" y1="351.5" x2="680.6" y2="351.5" stroke="#707070" stroke-width="0.9"/>
<line x1="291.45" y1="351.5" x2="291.45" y2="353.3" stroke="#707070" stroke-width="0.7"/>
<line x1="305.14" y1="351.5" x2="305.14" y2="353.3" stroke="#707070" stroke-width="0.7"/>
<line x1="318.82" y1="351.5" x2="318.82" y2="353.3" stroke="#707070" stroke-width="0.7"/>
<line x1="332.51" y1="351.5" x2="332.51" y2="353.3" stroke="#707070" stroke-width="0.7"/>
<line x1="346.19" y1="351.5" x2="346.19" y2="353.3" stroke="#707070" stroke-width="0.7"/>
<line x1="359.88" y1="351.5" x2="359.88" y2="353.3" stroke="#707070" stroke-width="0.7"/>
<line x1="373.57" y1="351.5" x2="373.57" y2="353.3" stroke="#707070" stroke-width="0.7"/>
<line x1="387.25" y1="351.5" x2="387.25" y2="353.3" stroke="#707070" stroke-width="0.7"/>
<line x1="400.94" y1="351.5" x2="400.94" y2="353.3" stroke="#707070" stroke-width="0.7"/>
<line x1="414.62" y1="351.5" x2="414.62" y2="353.3" stroke="#707070" stroke-width="0.7"/>
<line x1="428.31" y1="351.5" x2="428.31" y2="353.3" stroke="#707070" stroke-width="0.7"/>
<line x1="442.00" y1="351.5" x2="442.00" y2="353.3" stroke="#707070" stroke-width="0.7"/>
<line x1="455.68" y1="351.5" x2="455.68" y2="353.3" stroke="#707070" stroke-width="0.7"/>
<line x1="469.37" y1="351.5" x2="469.37" y2="353.3" stroke="#707070" stroke-width="0.7"/>
<line x1="483.05" y1="351.5" x2="483.05" y2="353.3" stroke="#707070" stroke-width="0.7"/>
<line x1="496.74" y1="351.5" x2="496.74" y2="353.3" stroke="#707070" stroke-width="0.7"/>
<line x1="510.43" y1="351.5" x2="510.43" y2="353.3" stroke="#707070" stroke-width="0.7"/>
<line x1="524.11" y1="351.5" x2="524.11" y2="353.3" stroke="#707070" stroke-width="0.7"/>
<line x1="537.80" y1="351.5" x2="537.80" y2="353.3" stroke="#707070" stroke-width="0.7"/>
<line x1="551.48" y1="351.5" x2="551.48" y2="353.3" stroke="#707070" stroke-width="0.7"/>
<line x1="565.17" y1="351.5" x2="565.17" y2="353.3" stroke="#707070" stroke-width="0.7"/>
<line x1="578.86" y1="351.5" x2="578.86" y2="353.3" stroke="#707070" stroke-width="0.7"/>
<line x1="592.54" y1="351.5" x2="592.54" y2="353.3" stroke="#707070" stroke-width="0.7"/>
<line x1="606.23" y1="351.5" x2="606.23" y2="353.3" stroke="#707070" stroke-width="0.7"/>
<line x1="619.91" y1="351.5" x2="619.91" y2="353.3" stroke="#707070" stroke-width="0.7"/>
<line x1="633.60" y1="351.5" x2="633.60" y2="353.3" stroke="#707070" stroke-width="0.7"/>
<line x1="647.29" y1="351.5" x2="647.29" y2="353.3" stroke="#707070" stroke-width="0.7"/>
<line x1="660.97" y1="351.5" x2="660.97" y2="353.3" stroke="#707070" stroke-width="0.7"/>
<line x1="674.66" y1="351.5" x2="674.66" y2="353.3" stroke="#707070" stroke-width="0.7"/>
<text transform="translate(292.45,259.0) rotate(-90) scale(0.84,1)" class="ss" font-size="4.3" font-weight="bold" fill="#555">PREMI2-2 - 360nt</text>
<text transform="translate(306.14,259.0) rotate(-90) scale(0.84,1)" class="ss" font-size="4.3" font-weight="bold" fill="#555">CAPN6-6 - 184nt</text>
<text transform="translate(319.82,259.0) rotate(-90) scale(0.84,1)" class="ss" font-size="4.3" font-weight="bold" fill="#555">CLCNKA-5 - 190nt</text>
<text transform="translate(333.51,259.0) rotate(-90) scale(0.84,1)" class="ss" font-size="4.3" font-weight="bold" fill="#555">CLCNKA-10 - 320nt</text>
<text transform="translate(347.19,259.0) rotate(-90) scale(0.84,1)" class="ss" font-size="4.3" font-weight="bold" fill="#555">CLCNKB-1 - 220nt</text>
<text transform="translate(360.88,259.0) rotate(-90) scale(0.84,1)" class="ss" font-size="4.3" font-weight="bold" fill="#555">CLCNKB-2 - 143nt</text>
<text transform="translate(374.57,259.0) rotate(-90) scale(0.84,1)" class="ss" font-size="4.3" font-weight="bold" fill="#555">CLCNKB-3 - 360nt</text>
<text transform="translate(388.25,259.0) rotate(-90) scale(0.84,1)" class="ss" font-size="4.3" font-weight="bold" fill="#555">CLCNKB-5 - 301nt</text>
<text transform="translate(401.94,259.0) rotate(-90) scale(0.84,1)" class="ss" font-size="4.3" font-weight="bold" fill="#555">CLCNKB-6 - 377nt</text>
<text transform="translate(415.62,259.0) rotate(-90) scale(0.84,1)" class="ss" font-size="4.3" font-weight="bold" fill="#555">CLCNKB-8 - 171nt</text>
<text transform="translate(429.31,259.0) rotate(-90) scale(0.84,1)" class="ss" font-size="4.3" font-weight="bold" fill="#555">CLCNKB-10 - 148nt</text>
<text transform="translate(443.00,259.0) rotate(-90) scale(0.84,1)" class="ss" font-size="4.3" font-weight="bold" fill="#555">CLCNKB-11 - 318nt</text>
<text transform="translate(456.68,259.0) rotate(-90) scale(0.84,1)" class="ss" font-size="4.3" font-weight="bold" fill="#555">CLCNKB-13 - 250nt</text>
<text transform="translate(470.37,259.0) rotate(-90) scale(0.84,1)" class="ss" font-size="4.3" font-weight="bold" fill="#555">CLCNKB-14 - 220nt</text>
<text transform="translate(484.05,259.0) rotate(-90) scale(0.84,1)" class="ss" font-size="4.3" font-weight="bold" fill="#555">CLCNKB-15 - 166nt</text>
<text transform="translate(497.74,259.0) rotate(-90) scale(0.84,1)" class="ss" font-size="4.3" font-weight="bold" fill="#555">CLCNKB-17 - 264nt</text>
<text transform="translate(511.43,259.0) rotate(-90) scale(0.84,1)" class="ss" font-size="4.3" font-weight="bold" fill="#555">CLCNKB-18 - 400nt</text>
<text transform="translate(525.11,259.0) rotate(-90) scale(0.84,1)" class="ss" font-size="4.3" font-weight="bold" fill="#555">CLCNKB-19 - 196nt</text>
<text transform="translate(538.80,259.0) rotate(-90) scale(0.84,1)" class="ss" font-size="4.3" font-weight="bold" fill="#555">Reference* - 346nt</text>
<text transform="translate(552.48,259.0) rotate(-90) scale(0.84,1)" class="ss" font-size="4.3" font-weight="bold" fill="#555">Reference* - 310nt</text>
<text transform="translate(566.17,259.0) rotate(-90) scale(0.84,1)" class="ss" font-size="4.3" font-weight="bold" fill="#555">Reference* - 202nt</text>
<text transform="translate(579.86,259.0) rotate(-90) scale(0.84,1)" class="ss" font-size="4.3" font-weight="bold" fill="#555">Reference* - 291nt</text>
<text transform="translate(593.54,259.0) rotate(-90) scale(0.84,1)" class="ss" font-size="4.3" font-weight="bold" fill="#555">Reference* - 130nt</text>
<text transform="translate(607.23,259.0) rotate(-90) scale(0.84,1)" class="ss" font-size="4.3" font-weight="bold" fill="#555">Reference* - 241nt</text>
<text transform="translate(620.91,259.0) rotate(-90) scale(0.84,1)" class="ss" font-size="4.3" font-weight="bold" fill="#555">Reference* - 400nt</text>
<text transform="translate(634.60,259.0) rotate(-90) scale(0.84,1)" class="ss" font-size="4.3" font-weight="bold" fill="#555">Reference* - 238nt</text>
<text transform="translate(648.29,259.0) rotate(-90) scale(0.84,1)" class="ss" font-size="4.3" font-weight="bold" fill="#555">Reference* - 154nt</text>
<text transform="translate(661.97,259.0) rotate(-90) scale(0.84,1)" class="ss" font-size="4.3" font-weight="bold" fill="#555">Reference* - 211nt</text>
<text transform="translate(675.66,259.0) rotate(-90) scale(0.84,1)" class="ss" font-size="4.3" font-weight="bold" fill="#555">Reference* - 177nt</text>
<text transform="translate(293.35,354.7) rotate(-90) scale(0.66,1)" class="ss" font-size="5.8" font-weight="bold" text-anchor="end" fill="#444">01-013.984489</text>
<text transform="translate(307.04,354.7) rotate(-90) scale(0.66,1)" class="ss" font-size="5.8" font-weight="bold" text-anchor="end" fill="#444">01-015.763735</text>
<text transform="translate(320.72,354.7) rotate(-90) scale(0.66,1)" class="ss" font-size="5.8" font-weight="bold" text-anchor="end" fill="#444">01-016.220294</text>
<text transform="translate(334.41,354.7) rotate(-90) scale(0.66,1)" class="ss" font-size="5.8" font-weight="bold" text-anchor="end" fill="#444">01-016.237088</text>
<text transform="translate(348.09,354.7) rotate(-90) scale(0.66,1)" class="ss" font-size="5.8" font-weight="bold" text-anchor="end" fill="#444">01-016.242958</text>
<text transform="translate(361.78,354.7) rotate(-90) scale(0.66,1)" class="ss" font-size="5.8" font-weight="bold" text-anchor="end" fill="#444">01-016.243515</text>
<text transform="translate(375.47,354.7) rotate(-90) scale(0.66,1)" class="ss" font-size="5.8" font-weight="bold" text-anchor="end" fill="#444">01-016.244726</text>
<text transform="translate(389.15,354.7) rotate(-90) scale(0.66,1)" class="ss" font-size="5.8" font-weight="bold" text-anchor="end" fill="#444">01-016.246903</text>
<text transform="translate(402.84,354.7) rotate(-90) scale(0.66,1)" class="ss" font-size="5.8" font-weight="bold" text-anchor="end" fill="#444">01-016.247429</text>
<text transform="translate(416.52,354.7) rotate(-90) scale(0.66,1)" class="ss" font-size="5.8" font-weight="bold" text-anchor="end" fill="#444">01-016.248206</text>
<text transform="translate(430.21,354.7) rotate(-90) scale(0.66,1)" class="ss" font-size="5.8" font-weight="bold" text-anchor="end" fill="#444">01-016.248936</text>
<text transform="translate(443.90,354.7) rotate(-90) scale(0.66,1)" class="ss" font-size="5.8" font-weight="bold" text-anchor="end" fill="#444">01-016.249930</text>
<text transform="translate(457.58,354.7) rotate(-90) scale(0.66,1)" class="ss" font-size="5.8" font-weight="bold" text-anchor="end" fill="#444">01-016.250802</text>
<text transform="translate(471.27,354.7) rotate(-90) scale(0.66,1)" class="ss" font-size="5.8" font-weight="bold" text-anchor="end" fill="#444">01-016.251811</text>
<text transform="translate(484.95,354.7) rotate(-90) scale(0.66,1)" class="ss" font-size="5.8" font-weight="bold" text-anchor="end" fill="#444">01-016.254816</text>
<text transform="translate(498.64,354.7) rotate(-90) scale(0.66,1)" class="ss" font-size="5.8" font-weight="bold" text-anchor="end" fill="#444">01-016.254786</text>
<text transform="translate(512.33,354.7) rotate(-90) scale(0.66,1)" class="ss" font-size="5.8" font-weight="bold" text-anchor="end" fill="#444">01-016.255469</text>
<text transform="translate(526.01,354.7) rotate(-90) scale(0.66,1)" class="ss" font-size="5.8" font-weight="bold" text-anchor="end" fill="#444">01-016.257138</text>
<text transform="translate(539.70,354.7) rotate(-90) scale(0.66,1)" class="ss" font-size="5.8" font-weight="bold" text-anchor="end" fill="#444">02-032.210126</text>
<text transform="translate(553.38,354.7) rotate(-90) scale(0.66,1)" class="ss" font-size="5.8" font-weight="bold" text-anchor="end" fill="#444">03-079.876461</text>
<text transform="translate(567.07,354.7) rotate(-90) scale(0.66,1)" class="ss" font-size="5.8" font-weight="bold" text-anchor="end" fill="#444">05-013.954525</text>
<text transform="translate(580.76,354.7) rotate(-90) scale(0.66,1)" class="ss" font-size="5.8" font-weight="bold" text-anchor="end" fill="#444">05-037.080306</text>
<text transform="translate(594.44,354.7) rotate(-90) scale(0.66,1)" class="ss" font-size="5.8" font-weight="bold" text-anchor="end" fill="#444">07-093.873447</text>
<text transform="translate(608.13,354.7) rotate(-90) scale(0.66,1)" class="ss" font-size="5.8" font-weight="bold" text-anchor="end" fill="#444">09-081.091172</text>
<text transform="translate(621.81,354.7) rotate(-90) scale(0.66,1)" class="ss" font-size="5.8" font-weight="bold" text-anchor="end" fill="#444">11-128.147049</text>
<text transform="translate(635.50,354.7) rotate(-90) scale(0.66,1)" class="ss" font-size="5.8" font-weight="bold" text-anchor="end" fill="#444">17-048.488008</text>
<text transform="translate(649.19,354.7) rotate(-90) scale(0.66,1)" class="ss" font-size="5.8" font-weight="bold" text-anchor="end" fill="#444">17-065.622422</text>
<text transform="translate(662.87,354.7) rotate(-90) scale(0.66,1)" class="ss" font-size="5.8" font-weight="bold" text-anchor="end" fill="#444">20-018.587200</text>
<text transform="translate(676.56,354.7) rotate(-90) scale(0.66,1)" class="ss" font-size="5.8" font-weight="bold" text-anchor="end" fill="#444">22-036.334507</text>
<text x="437.4" y="389.5" class="ss" font-weight="bold" font-size="4.2" textLength="91" fill="#222">CLCNKB-P266-B1-MP20D0060(NP205070)</text>
<text x="427.2" y="393.7" class="ss" font-weight="bold" font-size="4.2" textLength="112.4" fill="#222">Distribution Type: Reference Samples | Exp: 180524</text>
</g>
</svg></body></html>
